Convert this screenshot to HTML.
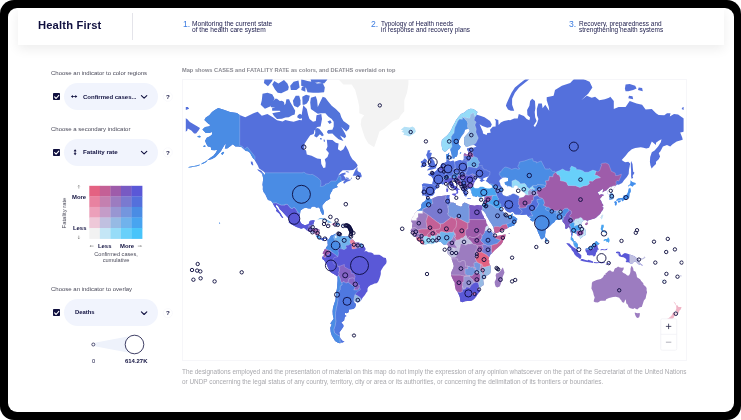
<!DOCTYPE html>
<html><head><meta charset="utf-8">
<style>
html,body{margin:0;padding:0;background:#fff;}
body{width:741px;height:420px;position:relative;overflow:hidden;font-family:"Liberation Sans",sans-serif;color:#10103f;}
.frame{position:absolute;left:0;top:0;width:741px;height:420px;background:#000;border-radius:14px;}
.card{position:absolute;left:7.5px;top:7.5px;width:726.5px;height:404.5px;background:#fff;border-radius:9px;overflow:hidden;}
.hdr{position:absolute;left:18px;top:7.5px;width:706px;height:37.5px;background:#fff;box-shadow:0 4px 12px rgba(0,0,0,0.075);}
.abs{position:absolute;white-space:nowrap;line-height:1;will-change:transform;}
.lbl{font-size:6.0px;color:#4a4a5a;}
.pill{position:absolute;left:64.4px;width:93.4px;height:27px;border-radius:13.5px;background:#f1f4fd;}
.cb{position:absolute;left:53px;width:7.4px;height:7.4px;background:#10103f;border-radius:0.8px;}
.b{font-weight:bold;}
.nav{font-size:6.1px;line-height:6px;color:#1a1a4a;}
.num{font-size:8.6px;color:#3b7be0;}
svg circle{fill:none;stroke:#0a0a3c;stroke-width:0.9;}
.q{font-size:6.2px;font-weight:bold;}
</style></head><body>
<div class="frame"></div>
<div class="card"></div>
<div class="hdr"></div>
<div class="abs" style="left:132.4px;top:13px;width:0.6px;height:26.5px;background:#e4e4ea;"></div>
<div class="abs b" id="logo" style="left:38px;top:20.3px;font-size:11.2px;letter-spacing:0.16px;color:#10103f;">Health First</div>

<div class="abs num" style="left:182.8px;top:19.6px;">1.</div>
<div class="abs nav" id="n1" style="font-size:6.6px;left:192px;top:20.9px;">Monitoring the current state<br>of the health care system</div>
<div class="abs num" style="left:371.1px;top:19.6px;">2.</div>
<div class="abs nav" id="n2" style="font-size:6.42px;left:381px;top:20.9px;">Typology of Health needs<br>in response and recovery plans</div>
<div class="abs num" style="left:569.3px;top:19.6px;">3.</div>
<div class="abs nav" id="n3" style="font-size:6.48px;left:578.7px;top:20.9px;">Recovery, preparedness and<br>strengthening health systems</div>

<!-- left panel -->
<div class="abs lbl" id="l1" style="left:51px;top:70.2px;">Choose an indicator to color regions</div>
<div class="pill" style="top:83px;"></div>
<div class="cb" style="top:93px;"></div>
<div class="abs b" id="t1" style="left:83.2px;top:93.6px;font-size:6.02px;">Confirmed cases...</div>
<div class="abs q" style="left:166.3px;top:93.8px;">?</div>

<div class="abs lbl" id="l2" style="left:51px;top:125.6px;">Choose a secondary indicator</div>
<div class="pill" style="top:138.7px;"></div>
<div class="cb" style="top:148.7px;"></div>
<div class="abs b" id="t2" style="left:83.2px;top:149.3px;font-size:6.2px;">Fatality rate</div>
<div class="abs q" style="left:166.3px;top:149.5px;">?</div>

<div class="abs lbl" id="l3" style="left:51px;top:285.8px;">Choose an indicator to overlay</div>
<div class="pill" style="top:299.3px;"></div>
<div class="cb" style="top:309px;"></div>
<div class="abs b" id="t3" style="left:74.5px;top:310.3px;font-size:5.9px;">Deaths</div>
<div class="abs q" style="left:166.3px;top:310.2px;">?</div>

<!-- legend text -->
<div class="abs b" style="left:72px;top:194.5px;font-size:5.9px;">More</div>
<div class="abs b" style="left:73px;top:226.2px;font-size:5.9px;">Less</div>
<div class="abs b" style="left:97.5px;top:244px;font-size:5.9px;">Less</div>
<div class="abs b" style="left:120.3px;top:244px;font-size:5.9px;">More</div>
<div class="abs lbl" style="left:86px;width:60px;text-align:center;top:252.2px;line-height:5.9px;font-size:5.6px;">Confirmed cases,<br>cumulative</div>
<div class="abs lbl" style="left:47.2px;top:209.5px;width:36px;text-align:center;transform:rotate(-90deg);font-size:5.9px;">Fatality rate</div>
<div class="abs b" id="kk" style="left:125.2px;top:358.8px;font-size:5.94px;">614.27K</div>
<div class="abs" style="left:91.7px;top:358.8px;font-size:5.7px;">0</div>

<!-- map caption / footer -->
<div class="abs b" id="cap" style="left:182.3px;top:67.6px;font-size:5.66px;color:#8a8a92;">Map shows CASES and FATALITY RATE as colors, and DEATHS overlaid on top</div>
<div class="abs" id="f1" style="left:182px;top:368.8px;font-size:6.4px;color:#a9a9ae;">The designations employed and the presentation of material on this map do not imply the expression of any opinion whatsoever on the part of the Secretariat of the United Nations</div>
<div class="abs" id="f2" style="left:182px;top:379.2px;font-size:6.4px;color:#a9a9ae;">or UNDP concerning the legal status of any country, territory, city or area or its authorities, or concerning the delimitation of its frontiers or boundaries.</div>

<div class="abs" style="left:182px;top:79px;width:505px;height:281.5px;box-sizing:border-box;border:0.6px solid #f6f6f9;"></div>
<svg width="741" height="420" viewBox="0 0 741 420" style="position:absolute;left:0;top:0">
<defs>
<clipPath id="land"><path d="M218.3 107.9L224.5 110.0L230.0 112.1L236.9 112.9L239.7 114.9L245.2 117.2L249.4 115.3L253.5 113.3L257.7 111.7L261.8 115.7L267.4 114.1L272.9 117.2L277.0 120.3L282.6 121.4L285.3 119.9L289.5 121.0L293.6 121.7L299.2 119.9L301.9 120.3L301.9 113.3L303.3 105.2L306.8 109.1L308.2 115.3L309.5 119.1L313.0 121.7L315.8 121.0L316.5 115.3L321.3 114.1L322.0 119.1L320.6 126.4L317.1 127.1L314.4 130.4L313.7 134.0L310.2 135.3L307.5 139.3L304.7 143.6L304.0 149.2L306.1 150.5L306.8 154.4L311.6 155.7L317.1 158.6L320.9 159.1L321.3 164.0L323.4 167.9L325.4 167.4L325.7 162.9L324.8 159.3L327.5 156.9L328.9 153.1L326.1 149.7L327.5 146.4L326.8 139.8L332.4 140.1L335.8 142.8L338.6 143.6L337.9 149.2L340.7 151.0L343.4 149.2L345.5 145.3L348.3 150.5L350.3 155.7L352.4 159.3L355.2 161.7L357.7 165.2L356.6 167.4L353.1 170.1L349.0 170.3L342.7 170.3L340.0 172.8L337.9 176.0L336.5 177.4L338.6 175.3L342.0 173.3L345.5 172.6L345.5 174.5L343.4 174.9L344.8 177.0L345.5 178.6L347.6 179.2L349.6 179.6L351.7 179.0L351.4 177.0L350.3 180.4L346.9 181.7L344.1 183.7L343.1 182.3L345.1 180.2L342.0 181.0L339.3 182.5L337.5 183.9L336.8 185.7L337.9 187.1L335.8 187.8L332.6 188.9L332.1 191.1L331.0 192.5L330.0 194.8L329.6 196.0L330.3 198.6L328.2 199.9L326.1 201.1L324.1 203.2L322.4 205.2L322.3 207.3L323.4 210.0L323.9 212.8L323.5 214.8L322.4 214.8L321.6 213.2L320.3 210.7L320.2 208.9L318.5 207.3L316.5 207.8L314.4 206.6L311.6 206.8L310.9 208.5L308.8 208.4L305.4 207.8L303.3 208.5L300.5 210.4L300.1 213.5L299.4 216.6L299.6 219.1L300.3 221.8L301.7 223.7L303.3 224.6L304.7 225.2L307.5 224.6L308.8 223.7L309.5 221.4L310.2 220.8L313.0 220.2L314.7 220.5L313.7 222.9L313.3 225.0L312.6 226.2L311.9 228.5L313.7 228.7L315.8 228.5L317.8 228.7L319.6 229.8L319.2 232.7L318.9 235.5L320.2 237.5L322.0 238.3L324.1 238.0L326.1 237.6L327.7 238.9L327.0 240.8L326.3 239.3L324.8 238.4L323.5 239.4L324.1 240.5L322.7 240.7L321.6 239.7L319.9 239.3L318.9 238.9L317.4 237.2L316.0 236.6L316.0 235.4L314.7 233.7L313.5 232.7L312.3 232.4L310.2 231.7L308.2 231.2L307.0 230.4L304.7 228.2L303.3 228.1L301.2 228.8L299.2 228.1L296.4 226.9L293.6 225.5L290.9 224.0L288.8 222.6L289.1 220.3L288.1 218.1L285.3 215.1L283.3 212.8L281.9 211.2L279.8 209.2L278.4 206.5L276.3 204.5L275.9 206.5L277.7 208.9L279.1 211.2L280.8 213.5L281.9 215.8L283.3 217.8L282.3 218.1L280.5 215.8L279.5 213.8L277.7 212.3L275.9 210.7L276.8 209.2L275.0 207.3L273.6 204.9L272.8 203.2L271.0 200.7L268.0 199.9L266.3 196.5L265.3 194.3L263.6 192.1L262.8 189.6L262.9 186.7L262.5 184.8L263.2 178.6L262.2 174.1L264.6 174.5L265.3 176.0L264.9 172.8L263.9 171.8L261.8 170.3L259.1 168.5L257.7 165.2L255.6 161.7L254.5 159.8L252.8 158.1L251.5 155.7L250.1 153.1L248.0 151.3L245.9 151.0L243.8 149.2L241.4 147.0L238.3 146.4L235.5 146.4L232.8 144.2L230.0 146.4L227.2 148.4L224.8 148.6L225.9 144.2L227.2 143.1L224.5 145.1L222.4 148.4L221.0 151.0L218.3 153.9L215.5 156.9L212.0 158.9L209.3 159.8L207.2 160.3L210.7 157.4L213.4 155.7L216.2 152.3L217.2 149.7L214.8 150.2L211.3 150.0L210.7 147.0L207.9 146.4L206.1 143.6L205.1 140.7L206.8 137.7L210.0 136.2L212.0 134.6L212.0 132.1L209.3 133.0L205.8 133.0L202.4 129.4L205.1 127.1L208.6 126.4L210.7 125.0L208.6 123.9L204.4 119.9L205.8 117.6L209.3 115.3L212.0 112.1L214.8 110.0ZM373.8 147.0L368.3 143.6L364.9 137.7L362.8 131.4L360.7 124.6L361.4 119.1L364.2 115.3L359.3 113.3L359.3 107.0L357.9 100.2L355.2 90.1L351.7 84.6L343.4 84.6L337.9 78.7L335.1 70.9L340.7 57.8L351.7 40.0L372.5 23.5L393.2 23.5L407.0 40.0L411.2 57.8L408.4 72.3L408.4 84.6L407.0 92.8L404.3 100.2L404.3 107.0L404.3 111.2L400.8 115.3L398.7 119.1L393.2 121.0L389.1 124.6L384.2 128.8L379.4 131.4L378.0 136.2L375.9 142.2L374.5 146.4ZM400.8 129.8L404.3 126.7L409.8 127.4L412.6 126.4L414.6 128.1L416.0 131.4L414.0 133.7L409.1 136.5L405.7 135.3L403.3 135.0L404.3 133.0L401.5 131.8L403.6 130.4ZM327.7 238.9L328.5 239.7L329.6 237.9L330.3 236.2L331.3 235.4L333.7 234.8L335.5 233.5L336.2 234.4L335.4 235.8L336.5 235.6L337.9 234.8L337.9 233.9L340.0 235.2L340.7 236.1L343.4 236.1L345.5 236.6L348.3 235.9L349.2 236.9L350.3 238.3L351.0 239.0L353.1 239.7L354.5 241.4L355.9 242.5L358.6 242.6L360.0 242.9L362.1 243.9L363.5 244.8L364.2 246.6L365.5 248.3L365.5 250.1L364.2 251.5L366.2 251.1L367.6 251.8L368.3 252.2L371.1 252.5L373.2 253.6L373.8 254.7L376.6 254.7L379.4 254.8L381.5 255.9L383.5 257.4L385.9 258.1L386.3 259.8L386.6 261.2L386.3 263.3L384.9 265.1L383.5 266.5L382.1 268.7L380.8 271.1L380.8 273.9L380.3 276.1L379.4 278.7L378.7 280.5L378.0 282.0L376.6 283.3L374.5 283.5L372.5 284.4L370.4 285.3L368.3 287.0L367.5 288.8L367.5 291.2L366.2 292.7L364.9 295.1L362.8 297.6L361.0 300.4L359.3 302.0L357.3 302.4L355.2 301.5L353.9 300.9L353.9 301.9L355.6 303.4L355.9 305.1L355.0 307.7L353.1 308.9L349.0 309.5L348.5 312.2L346.9 313.3L344.8 312.7L344.8 314.9L346.6 315.9L344.8 316.8L344.1 320.6L341.3 322.6L343.4 325.0L343.4 326.7L341.3 329.8L339.3 332.6L340.0 336.0L339.8 336.9L340.7 338.7L342.7 341.1L344.5 341.5L342.7 342.5L340.0 343.2L337.9 342.7L335.1 341.1L333.0 337.6L331.7 335.3L330.7 332.0L330.3 327.7L331.7 324.6L330.3 323.6L332.4 320.6L333.7 318.7L332.8 314.9L332.6 311.3L333.0 307.7L333.5 306.0L334.3 303.4L335.5 300.0L335.8 295.9L336.0 292.7L336.8 289.6L337.2 286.5L337.3 284.3L337.6 280.5L337.5 276.7L336.1 275.4L333.7 273.9L331.0 272.5L329.2 270.2L327.9 267.5L326.8 264.7L325.4 262.2L324.1 260.2L322.4 259.1L322.3 257.0L323.6 255.5L324.1 254.3L322.7 253.8L323.0 252.2L324.1 250.8L324.1 249.7L325.7 248.9L326.1 247.3L327.5 246.0L327.8 244.6L327.5 242.9L327.7 241.5L327.0 240.8ZM426.5 197.7L427.4 197.5L430.6 198.7L431.9 198.9L433.3 197.9L434.7 197.5L436.8 196.5L438.8 196.0L441.6 196.0L445.1 195.6L448.3 195.1L449.9 195.6L449.2 196.7L449.4 198.2L449.9 199.9L448.7 200.7L449.9 201.9L452.0 202.7L453.0 202.6L455.7 203.6L456.1 204.9L458.9 206.0L461.0 206.8L462.4 205.7L462.4 204.0L464.4 202.6L466.5 203.2L469.3 204.7L472.0 205.2L474.8 205.8L476.2 205.2L477.6 204.9L479.4 205.3L479.6 207.3L479.9 208.1L481.0 210.4L481.7 212.0L482.4 214.3L483.8 216.6L484.1 218.1L485.7 219.6L486.1 221.1L486.3 223.3L487.9 225.5L489.1 228.4L489.3 229.1L491.4 230.5L493.5 232.7L494.6 233.4L494.6 234.8L495.6 236.2L497.6 235.9L499.7 235.4L502.5 235.1L505.5 234.2L505.4 236.2L504.5 238.3L503.2 240.4L502.5 242.5L501.1 244.6L499.0 246.6L497.3 248.0L494.9 250.1L492.8 252.2L492.1 253.2L490.7 254.3L490.0 255.6L489.5 256.5L488.9 257.7L488.4 259.8L489.3 260.5L489.1 262.6L489.7 264.7L490.6 265.4L490.8 268.2L490.8 271.1L490.3 273.2L488.6 274.7L485.9 276.1L484.9 277.4L483.1 278.7L483.4 281.3L483.8 283.5L483.7 285.0L481.0 286.8L480.1 288.1L480.1 290.4L479.5 292.1L477.6 294.2L476.2 296.4L474.1 298.9L472.0 300.4L470.2 300.9L467.2 301.0L465.1 301.2L462.4 302.2L460.3 301.4L460.0 299.2L459.9 297.6L458.6 294.3L457.5 292.1L455.7 289.6L454.8 285.0L454.8 282.7L453.4 280.5L452.0 277.6L451.0 275.1L451.0 273.2L452.0 270.4L453.2 268.2L453.8 266.1L453.0 263.3L452.4 261.2L451.7 259.3L451.4 257.7L450.2 256.3L448.5 254.7L447.6 253.4L446.9 251.8L447.8 250.4L448.0 249.1L448.3 247.3L448.1 246.0L447.8 245.3L446.7 244.4L445.1 244.7L443.7 244.8L442.3 243.6L440.9 242.1L439.4 241.9L437.5 242.1L436.4 242.3L434.7 243.0L433.3 243.6L431.9 244.2L430.6 243.7L429.2 243.5L426.4 244.2L424.3 244.7L422.3 243.9L419.8 242.1L418.8 241.2L417.4 240.5L416.4 239.0L416.3 237.6L414.6 236.2L414.0 235.5L412.6 234.2L411.6 233.5L411.5 232.1L410.5 230.2L411.9 228.4L412.2 225.5L412.6 223.3L411.9 222.6L411.2 221.1L411.2 219.9L412.6 217.0L414.0 215.5L414.2 214.0L416.0 212.0L416.7 210.9L418.8 209.7L420.9 208.2L421.3 206.6L421.1 204.9L422.3 202.7L424.2 201.4L425.3 200.7L426.1 199.1ZM502.9 267.5L504.5 272.5L503.6 274.7L503.0 276.1L501.8 280.5L500.4 285.0L499.7 286.5L497.2 287.4L495.6 286.5L494.9 284.3L494.6 282.0L496.0 279.0L496.1 277.6L495.6 275.4L496.2 273.5L498.3 272.9L499.7 271.8L501.1 270.1L502.2 268.2ZM427.2 197.2L426.0 196.5L424.5 195.3L422.4 195.6L422.5 193.2L421.6 192.7L422.4 190.0L422.7 188.2L422.4 185.7L421.8 184.8L423.6 183.5L426.7 183.7L429.4 183.9L432.2 184.0L432.8 181.9L433.2 179.0L431.7 176.6L428.5 175.1L428.2 174.1L430.6 173.3L432.5 173.7L432.3 171.4L434.7 172.0L436.8 170.3L437.2 168.8L439.5 167.7L440.5 165.9L441.3 164.0L443.0 163.1L444.7 162.7L446.5 162.0L446.7 159.6L446.0 157.9L446.0 154.4L447.8 153.9L449.2 152.6L448.9 155.7L449.6 156.2L448.5 158.6L448.3 159.8L449.6 161.0L449.9 161.7L451.6 161.0L453.4 160.5L454.5 162.0L456.8 161.0L460.3 160.1L462.1 160.8L463.7 159.3L463.7 156.9L463.7 154.4L464.8 152.9L466.5 154.4L467.9 154.4L468.3 151.3L467.2 150.0L467.2 148.4L469.3 147.8L473.4 147.8L476.5 146.7L474.1 145.1L470.7 145.3L467.9 146.4L465.8 146.4L464.2 144.2L464.2 140.7L464.0 137.7L465.8 135.6L468.6 132.4L469.8 130.8L468.6 128.8L465.1 129.4L464.2 133.0L461.0 137.1L458.9 140.7L458.5 143.6L458.9 144.8L460.7 146.4L459.9 148.4L457.9 150.5L457.5 154.4L456.8 156.4L454.8 156.9L454.3 158.4L452.7 158.4L452.1 156.4L451.3 153.1L450.2 149.2L449.4 147.8L447.8 149.4L445.8 151.6L444.4 151.8L442.4 149.7L441.6 145.6L441.6 142.2L441.9 140.1L444.4 137.7L447.1 135.6L449.2 133.0L451.3 129.8L452.7 126.4L454.8 122.8L456.1 119.9L458.2 117.2L461.0 114.1L464.4 112.5L467.2 110.0L470.4 108.7L473.4 109.1L477.6 112.1L476.2 114.5L480.3 115.7L484.5 117.2L490.0 121.0L491.8 124.6L490.7 127.1L487.3 127.8L482.4 126.0L479.6 124.3L482.8 131.4L483.0 133.4L486.6 135.0L487.3 133.0L490.7 132.7L490.0 129.8L492.8 126.7L495.6 126.4L495.8 121.0L494.6 118.8L498.3 119.9L498.6 125.0L500.8 122.5L503.9 121.0L508.7 119.9L510.1 120.3L514.2 118.4L517.7 118.4L518.8 114.1L523.9 116.1L526.7 119.1L529.4 120.3L530.1 117.6L527.4 114.9L527.1 110.0L529.4 105.7L530.1 101.1L532.2 98.8L535.0 101.1L535.4 108.3L534.7 112.1L535.2 117.2L536.6 121.0L533.6 125.7L535.0 127.1L537.0 123.6L538.4 119.1L537.0 115.3L536.8 109.1L538.4 103.4L541.9 103.4L542.6 108.3L545.3 104.8L549.5 111.2L549.5 113.3L548.8 107.0L546.7 100.2L546.7 97.3L553.6 95.8L555.0 90.1L561.9 85.7L570.2 82.9L578.5 74.3L582.7 78.7L589.6 81.7L592.4 87.4L588.2 93.8L585.4 96.3L581.3 100.2L586.8 95.8L591.7 97.8L595.1 96.8L599.3 100.2L604.8 99.2L609.0 97.8L610.3 96.8L613.8 101.1L613.8 109.1L618.6 107.0L622.8 107.0L625.6 107.0L628.3 103.0L629.7 101.1L636.6 103.4L642.1 104.8L645.6 109.6L651.8 109.1L656.0 113.3L658.7 114.9L664.3 115.3L667.0 113.3L670.5 113.3L669.8 116.5L674.0 114.1L678.1 114.5L682.3 117.6L685.0 119.1L687.8 122.1L691.9 124.6L695.4 126.4L697.9 128.1L696.8 130.1L694.0 133.4L691.9 133.4L689.2 130.4L685.7 128.4L685.0 130.8L682.9 132.1L680.2 132.4L682.3 137.7L682.7 139.8L676.7 141.6L672.6 144.2L670.2 146.4L667.0 145.1L662.9 146.4L661.5 149.2L660.1 151.8L658.7 153.1L660.1 156.4L658.7 159.3L656.0 161.7L656.0 164.0L653.6 166.3L651.6 168.5L650.4 165.2L649.9 161.7L650.2 156.9L651.8 152.3L654.6 150.5L658.1 146.4L660.8 142.2L661.5 139.3L658.7 140.7L656.0 142.8L656.0 145.1L651.8 141.6L649.1 147.8L646.3 148.6L643.5 147.8L640.8 147.3L635.2 148.1L631.8 149.2L628.3 152.3L625.6 155.7L621.7 160.1L624.2 161.7L625.6 162.2L628.3 161.7L630.1 163.6L629.7 166.3L629.0 169.6L628.7 173.9L626.9 177.0L624.2 180.0L622.1 182.9L618.6 184.8L617.1 184.6L615.5 186.1L614.2 187.6L613.8 188.9L611.2 190.7L611.0 191.8L612.3 193.0L613.7 195.6L613.8 197.7L613.1 198.9L611.0 199.6L609.5 199.9L609.5 198.2L609.8 195.6L609.1 194.3L607.6 193.9L607.9 192.1L606.7 190.3L604.1 191.2L602.5 192.5L603.1 190.0L603.1 188.7L600.7 190.3L599.3 191.6L597.5 192.1L598.6 193.9L599.3 195.1L601.6 194.3L604.1 195.0L602.0 196.3L601.1 197.4L599.7 199.1L601.1 200.7L602.0 203.2L603.3 204.9L603.1 206.0L601.8 206.8L603.4 207.6L603.0 209.7L601.6 211.2L600.4 213.5L599.3 214.8L598.0 215.8L596.5 217.3L595.1 218.3L592.8 219.0L591.7 219.3L589.6 220.0L587.5 220.6L587.2 222.1L586.6 220.3L584.8 220.0L583.4 220.6L582.3 221.8L581.0 224.0L582.0 225.8L583.8 227.9L585.3 229.4L585.9 232.0L585.9 234.1L585.2 235.2L583.1 236.2L582.4 236.5L582.0 237.6L580.2 238.7L579.8 237.2L579.2 236.3L578.0 236.1L577.1 234.8L576.2 233.8L574.4 233.1L574.2 232.1L573.0 232.2L573.0 234.1L572.3 235.5L571.9 237.6L573.0 238.3L573.4 239.7L574.2 241.1L575.4 241.5L576.5 242.5L577.6 243.9L577.8 245.3L577.7 246.9L578.8 248.9L577.8 249.0L576.5 248.0L574.9 246.9L573.8 245.3L573.6 243.2L573.0 241.8L572.0 240.4L570.8 239.7L570.8 237.6L571.2 235.5L571.1 233.4L570.5 231.2L569.8 229.1L569.7 227.7L568.6 227.1L566.8 228.7L565.1 228.4L565.4 226.2L564.7 224.0L563.3 222.6L562.4 221.4L561.7 219.1L559.9 218.9L557.8 219.9L556.4 220.0L555.0 220.6L554.7 221.8L553.6 222.7L552.3 223.4L550.9 225.0L548.5 227.2L547.0 228.4L545.6 229.4L545.5 232.0L545.1 234.4L545.1 236.5L544.0 237.9L542.9 238.4L541.9 239.6L540.5 238.3L540.1 236.9L539.1 234.5L538.1 232.7L537.3 230.1L536.8 229.1L535.9 226.9L535.4 224.0L535.2 221.8L535.1 220.3L535.0 219.3L534.4 221.1L532.6 221.5L530.4 219.9L530.0 219.1L531.8 218.3L529.9 217.8L529.0 217.0L528.1 216.6L527.4 215.4L526.7 214.5L523.9 214.8L520.4 214.9L517.7 214.6L514.9 214.2L513.8 212.8L512.8 211.8L510.1 212.6L508.0 212.0L505.9 210.6L505.0 208.9L503.9 207.0L502.5 206.6L501.8 207.3L501.1 208.1L501.8 209.7L502.7 211.2L504.1 212.8L505.0 214.3L505.0 215.4L505.6 213.4L506.1 215.1L506.1 216.1L508.0 216.4L510.1 216.1L511.2 214.6L512.3 213.5L512.7 213.1L512.7 215.1L513.0 216.1L514.9 217.0L517.4 218.9L515.9 221.8L514.6 224.0L514.2 225.5L511.5 226.2L509.4 226.9L506.9 228.4L503.9 229.8L501.8 231.2L499.0 232.1L496.9 232.9L494.9 233.1L494.4 232.0L494.0 229.8L493.6 227.7L492.5 225.5L491.1 223.3L489.5 221.1L487.9 218.1L486.6 216.1L485.6 213.5L483.8 211.2L482.8 210.4L483.1 208.1L482.1 210.4L480.6 209.7L479.8 207.4L479.4 205.3L481.4 205.5L482.1 205.2L482.8 204.0L483.1 202.4L483.9 200.7L484.3 199.1L484.5 197.4L484.8 196.3L483.1 196.3L481.7 197.0L479.6 197.2L477.6 196.0L476.2 196.9L474.8 196.3L473.4 196.2L472.5 195.6L472.3 193.9L471.3 193.0L471.8 191.6L470.9 191.2L470.9 190.3L470.7 189.3L470.0 188.7L467.9 189.1L467.6 190.3L466.4 189.4L466.1 191.2L467.2 193.0L467.9 193.9L466.8 193.9L466.8 195.1L466.2 196.5L464.7 196.0L464.2 194.3L463.9 193.4L463.3 192.1L462.4 190.9L461.5 189.4L461.7 187.1L460.3 185.7L458.2 184.8L456.1 182.9L454.8 180.6L453.5 181.0L453.6 179.6L451.8 180.2L451.7 182.3L453.4 183.7L454.3 185.7L456.8 186.9L458.2 188.5L460.3 190.2L458.2 189.6L457.7 190.9L458.3 192.1L457.5 193.4L456.4 194.1L456.6 192.7L456.8 191.2L455.9 190.2L454.8 189.3L452.7 188.0L451.6 187.1L449.9 185.9L449.2 184.8L448.8 183.1L447.1 182.1L445.1 183.3L443.0 184.6L441.6 184.0L440.2 183.9L439.1 184.8L439.1 186.1L437.7 187.8L435.8 189.1L434.3 191.2L434.8 192.5L433.9 193.9L433.6 194.6L431.9 196.0L428.6 196.2ZM426.8 170.5L429.9 170.1L433.0 169.2L436.5 168.1L435.8 167.4L437.1 165.0L435.1 164.0L434.7 162.7L434.4 161.2L432.8 159.3L431.9 157.4L430.6 156.9L431.2 155.7L431.9 153.1L429.9 152.6L429.2 152.9L430.6 150.2L427.8 150.2L427.1 153.1L426.1 155.1L427.1 156.9L427.8 159.3L428.1 160.1L429.9 159.6L430.6 161.7L430.6 163.1L428.5 163.4L428.5 164.5L429.2 165.6L427.5 166.5L429.2 167.2L430.6 167.7L429.9 168.1L428.5 168.5ZM426.4 165.9L426.1 163.4L427.1 160.5L425.7 158.9L424.3 158.6L422.9 160.5L420.9 161.2L420.9 163.1L422.3 163.8L421.1 165.9L420.6 166.8L421.6 167.4L423.6 166.8L425.7 166.1ZM505.9 105.7L508.0 109.6L510.8 110.8L514.2 110.8L512.1 104.8L512.1 98.8L514.9 92.8L519.1 87.4L524.6 82.9L529.4 79.3L526.0 78.7L520.4 82.9L514.9 87.4L511.5 92.8L508.7 98.8L506.6 103.4ZM624.9 88.5L625.6 91.2L628.3 91.2L633.2 90.1L636.6 88.5L635.2 85.7L629.7 84.0L625.6 84.6ZM638.0 90.1L642.8 91.2L642.1 88.0L638.7 87.4ZM628.3 98.3L633.2 99.2L632.5 96.3L629.0 95.8ZM681.6 109.1L683.6 110.0L687.1 108.7L685.7 107.0L682.9 107.0ZM631.1 161.0L632.5 164.0L632.9 168.5L633.2 171.8L634.5 172.8L632.5 176.0L633.2 177.4L631.8 179.0L631.1 177.0L631.1 173.9L631.1 170.7L630.8 166.3L630.8 162.9ZM630.4 180.2L632.5 181.9L635.6 182.9L635.9 184.2L633.9 185.0L632.7 186.7L630.4 185.6L629.0 185.7L628.6 187.6L628.3 185.2L630.1 184.2L630.5 181.9ZM630.3 187.8L630.9 190.3L630.8 192.1L629.7 193.6L629.6 195.6L629.3 197.4L628.3 199.1L627.9 198.2L626.7 199.6L625.6 199.7L624.2 199.7L623.9 200.2L622.5 201.6L621.5 200.2L621.4 199.6L619.3 200.1L617.7 200.7L615.9 200.7L616.6 199.6L618.2 198.2L620.4 198.1L622.5 198.1L623.1 196.9L623.9 195.1L624.6 195.6L626.0 195.3L626.9 193.9L628.0 192.1L628.3 190.3L628.7 188.5L629.7 188.2ZM615.9 200.9L617.0 202.4L616.6 204.9L615.5 205.7L614.8 204.9L614.9 203.2L614.1 202.4L614.5 201.4ZM617.9 200.7L620.4 200.2L621.0 201.1L620.3 201.9L618.6 202.7L617.9 201.9ZM602.7 214.6L603.4 215.1L602.7 217.3L601.8 219.6L600.9 218.6L600.8 217.3L601.6 215.7ZM585.0 223.7L586.8 222.4L588.2 223.0L587.5 224.5L586.1 225.2L585.0 224.5ZM545.3 237.2L546.6 238.3L547.8 240.4L547.7 241.8L546.2 242.6L545.3 242.1L545.1 240.4L545.1 238.9ZM601.5 224.8L603.7 224.8L603.8 226.9L602.9 228.7L603.0 230.8L604.4 231.2L606.1 231.5L606.3 233.2L605.2 232.7L604.1 232.0L602.7 231.7L601.5 231.0L601.9 230.4L600.9 230.1L600.7 228.1L601.1 227.5L601.2 226.2ZM608.1 237.2L609.4 239.0L609.6 240.7L609.2 242.1L608.1 243.0L608.0 241.8L606.5 242.2L606.2 240.8L605.4 240.4L603.6 241.2L603.8 239.7L605.2 238.9L607.2 238.9L607.6 238.0ZM586.3 248.0L588.2 248.6L588.6 247.3L591.0 246.4L592.4 244.6L594.0 243.5L595.1 242.2L596.2 241.1L597.5 241.9L598.2 242.8L599.6 243.6L598.6 244.6L597.5 245.0L597.6 246.6L597.9 248.0L599.1 249.4L597.6 249.7L597.2 251.5L596.2 252.6L595.8 254.3L595.1 255.9L593.3 256.5L593.1 255.5L591.0 255.2L589.3 255.6L587.1 255.0L586.8 252.9L585.7 251.5L585.4 250.4L585.4 249.1ZM566.5 243.0L569.5 243.6L571.2 245.5L573.4 247.3L575.1 248.3L577.1 249.7L578.3 250.8L577.8 252.2L579.2 253.3L579.9 254.0L581.3 255.0L581.3 257.0L581.0 258.8L579.4 258.8L578.5 257.7L576.2 256.3L574.4 254.3L573.6 252.2L571.6 250.1L571.2 248.4L569.1 246.4L567.5 244.8L566.5 243.6ZM580.2 260.2L581.3 259.0L582.7 259.0L584.8 259.8L587.5 260.4L588.2 259.7L590.6 260.4L593.1 261.5L593.1 262.9L590.3 262.5L586.8 261.9L584.1 261.6L582.0 260.9ZM593.7 262.0L596.5 262.2L599.3 262.2L602.0 262.3L604.8 262.2L604.8 263.0L601.4 263.2L599.3 263.0L596.5 263.3L594.0 263.0ZM605.5 265.1L607.6 263.3L610.3 262.5L610.6 262.9L607.6 264.3L606.2 265.1ZM600.4 249.7L601.8 249.1L604.8 249.6L607.6 248.6L606.9 250.1L604.8 250.2L602.0 250.1L600.7 250.5ZM615.9 251.9L617.9 251.4L620.0 251.9L620.4 253.8L621.4 255.4L623.5 253.8L624.9 252.9L626.9 253.6L629.7 254.4L632.5 255.5L634.5 256.2L636.3 257.7L638.0 259.1L639.1 260.1L638.4 261.2L640.1 263.3L642.1 264.7L643.3 265.5L641.5 265.3L639.4 264.8L638.1 264.0L636.6 262.2L634.5 261.5L633.2 262.6L632.5 263.6L630.4 263.6L628.3 262.2L626.2 262.3L625.6 260.9L626.7 260.2L625.6 258.4L623.5 257.3L621.4 256.9L619.3 256.3L618.4 255.0L617.5 254.7L619.6 254.1L617.9 253.6L616.1 252.9ZM639.8 258.6L642.8 258.4L644.9 256.6L645.3 257.4L643.5 259.1L641.5 259.5L639.9 259.1ZM631.8 265.7L633.2 268.2L633.6 270.8L635.6 271.8L636.6 274.7L637.0 277.3L640.1 279.3L641.2 281.0L643.3 283.2L643.5 284.7L645.6 286.5L646.6 288.1L646.6 290.4L647.1 292.3L646.3 295.1L645.6 298.4L643.9 300.5L643.1 302.9L642.1 306.0L642.0 306.8L639.4 307.5L637.2 309.6L635.2 308.4L634.5 308.0L633.2 309.1L630.4 308.2L628.7 307.3L627.9 305.1L626.9 303.5L626.0 303.4L626.2 302.2L625.6 299.2L624.9 300.5L623.9 302.9L622.8 302.0L622.2 302.4L621.4 300.5L620.0 298.9L619.3 297.7L615.9 296.7L613.1 296.9L609.0 298.0L606.2 299.2L605.5 300.7L600.7 300.7L597.9 302.5L595.1 302.2L593.7 301.4L593.9 300.0L594.7 297.6L593.7 295.1L593.2 292.4L592.4 290.4L591.4 288.4L591.7 285.8L591.9 282.9L592.6 281.7L594.4 281.0L596.5 279.9L598.7 279.5L600.7 278.9L602.7 277.6L603.7 276.1L604.1 274.7L605.6 275.1L605.2 273.7L606.9 272.5L608.3 271.1L610.1 270.2L611.7 271.5L612.1 271.8L613.8 271.6L614.1 270.1L614.9 268.5L615.6 268.1L616.6 267.8L618.1 266.5L619.3 267.2L621.4 267.8L623.8 267.5L623.5 269.4L622.5 271.1L622.1 271.8L623.5 272.9L625.6 274.1L627.2 275.4L629.0 275.5L630.1 273.2L630.5 271.1L630.5 268.7L631.1 266.8ZM634.8 312.5L637.3 313.3L639.8 312.9L639.8 314.9L639.2 317.2L637.7 317.9L636.6 317.6L635.6 315.9L634.8 313.6ZM673.5 301.5L675.3 303.0L676.4 305.6L677.8 305.6L678.4 307.0L680.9 307.0L681.6 307.2L680.7 309.5L679.5 310.4L678.5 313.1L677.1 314.2L676.4 313.6L677.0 311.6L675.3 310.4L676.3 309.1L676.3 306.8L675.8 305.1L674.0 302.5ZM673.5 312.2L675.8 313.4L675.3 314.7L674.0 316.8L673.7 318.1L671.6 319.3L671.2 321.6L670.5 322.4L669.1 323.8L667.5 323.8L665.1 322.8L665.0 321.6L667.0 319.1L669.1 317.7L671.2 315.9L672.3 314.2L672.9 312.7ZM317.3 219.7L319.9 218.1L322.0 218.0L324.1 218.4L327.5 220.0L330.3 221.4L332.1 222.3L330.3 222.7L327.2 222.7L327.9 221.8L326.1 220.6L323.4 219.9L321.3 219.0L319.2 219.3ZM331.8 224.6L333.2 222.9L335.5 222.9L337.9 223.0L340.1 224.6L338.6 225.0L336.5 225.3L335.5 225.9L334.4 225.2L331.8 224.9ZM326.4 224.9L328.3 224.8L329.3 225.5L327.9 225.8L326.4 225.3ZM341.8 224.8L344.0 224.9L343.8 225.5L341.8 225.5ZM352.7 175.8L354.5 171.8L355.9 169.0L357.7 167.2L357.3 170.3L358.6 171.8L360.7 172.8L361.4 174.9L361.8 176.0L361.1 177.6L360.0 177.0L357.9 177.2L357.3 175.8L354.5 175.8ZM257.3 169.0L261.4 170.7L263.9 173.9L262.1 173.7L260.4 172.2L258.0 170.5ZM250.8 161.5L252.6 161.7L253.3 165.2L252.1 165.2L251.0 163.4ZM221.0 153.6L223.1 151.8L224.2 152.6L222.4 154.9ZM207.2 160.3L205.1 161.7L202.4 163.1L201.0 164.3L202.4 164.0L205.1 162.7L207.2 161.0ZM199.6 164.5L196.8 165.6L194.1 165.9L191.3 166.5L188.5 167.0L188.5 167.4L191.3 167.2L194.1 166.5L196.8 166.3L199.6 165.2ZM197.2 136.2L199.6 135.6L201.2 136.8L199.6 137.7L197.5 137.1ZM203.3 145.9L205.1 145.3L205.5 146.7L203.7 147.0ZM350.3 333.9L353.1 333.7L354.8 334.4L353.8 335.7L351.7 335.7L350.3 335.3ZM451.8 193.9L453.4 193.6L456.3 193.6L455.7 195.6L455.4 196.2L453.4 195.3L452.0 194.6ZM446.0 188.7L447.6 188.2L448.3 189.4L448.0 191.8L447.1 192.1L446.3 191.8L446.3 189.8ZM446.6 185.9L447.7 184.8L447.8 186.7L447.4 187.8L446.7 187.4ZM467.2 198.2L468.6 198.1L471.1 198.6L470.9 199.1L468.6 199.1L467.2 198.7ZM479.4 199.1L480.3 198.4L482.6 197.9L481.7 199.1L480.3 199.7L479.5 199.6ZM449.9 157.6L451.6 156.6L452.1 157.9L451.6 159.3L450.2 158.9ZM459.7 153.9L460.7 152.1L461.3 152.1L460.7 153.9ZM219.0 222.3L220.3 222.9L219.6 224.0L219.0 223.3ZM661.5 279.2L663.6 280.5L665.7 282.5L665.0 282.5L662.9 281.1L661.5 279.8ZM679.9 275.2L681.7 275.4L681.6 276.4L679.9 276.3ZM508.4 233.2L510.1 233.2L509.9 233.7L508.7 233.7ZM260.7 104.8L264.9 108.7L270.1 106.6L273.6 101.1L274.5 98.3L272.2 94.3L267.4 92.8L262.5 93.8L261.8 100.2ZM272.3 113.3L274.0 116.1L277.0 119.1L281.9 118.8L285.3 117.6L288.8 117.2L292.3 115.3L294.7 114.5L295.2 110.8L292.9 106.6L290.2 102.1L289.1 99.2L286.4 99.2L285.6 103.4L284.6 105.2L284.0 102.1L281.9 100.7L279.8 101.1L277.0 98.8L275.2 98.8L272.2 102.1L270.1 106.1L271.8 107.4L275.4 107.0L272.1 108.3L272.1 110.4L272.6 110.8L279.8 110.8L280.5 111.7L275.7 112.5ZM297.1 117.2L299.9 119.1L302.3 118.0L302.2 114.9L299.9 113.7L297.8 115.3ZM293.6 104.8L292.9 100.7L295.7 95.8L299.2 95.8L300.5 100.2L300.5 104.8L297.8 107.4L294.3 106.1ZM302.6 104.8L302.3 96.8L306.1 94.8L309.8 95.8L308.8 100.2L306.8 103.4L304.3 104.8ZM307.5 92.2L313.0 92.8L318.5 92.8L324.1 92.2L324.8 87.4L322.7 82.9L317.1 83.5L311.6 81.7L307.5 81.1L301.2 79.3L301.2 85.7L306.1 88.0ZM301.2 90.1L305.4 91.7L305.4 86.9L301.9 86.9ZM290.9 90.1L296.4 90.1L299.6 87.4L298.5 80.5L293.6 81.7L290.2 85.7ZM272.2 84.6L275.0 89.6L277.7 92.8L281.2 93.3L288.1 90.1L288.8 86.9L287.4 83.5L284.0 79.9L278.4 83.5L274.3 81.1ZM263.9 82.9L268.0 86.3L272.2 81.1L273.6 74.9L268.7 73.6L264.6 78.7ZM311.6 83.5L318.5 82.3L324.1 83.5L327.1 79.9L329.6 72.3L331.0 57.8L310.2 57.8L310.2 77.4ZM315.1 129.1L317.1 128.1L319.2 128.8L322.7 133.0L323.8 135.3L322.0 136.2L319.9 134.3L316.7 137.4L314.1 135.9L315.3 133.0ZM319.9 138.0L321.3 138.0L322.0 139.3L320.6 139.8ZM323.6 139.6L324.8 139.8L324.8 141.9L323.8 141.6ZM327.5 121.4L330.3 120.3L331.7 122.5L329.6 123.9ZM343.4 141.0L338.6 139.3L335.1 136.2L332.4 133.4L328.2 133.7L326.8 132.1L328.2 130.1L332.4 129.8L333.7 126.4L333.7 121.7L331.7 119.1L328.2 116.5L325.4 113.3L321.3 113.3L317.8 113.7L315.1 112.1L310.9 109.1L310.2 102.5L310.9 97.8L315.8 96.3L317.1 100.2L317.8 107.0L319.9 102.5L322.7 96.8L325.4 97.8L328.2 101.6L331.7 105.7L335.8 109.1L340.0 113.3L341.3 117.2L343.4 121.0L347.6 123.9L349.6 125.7L349.0 128.8L346.2 131.4L341.3 127.1L344.8 133.0L346.2 136.2L344.8 138.3L340.0 135.6L342.7 139.8ZM345.5 171.1L348.3 171.6L349.4 172.6L346.9 172.2ZM345.6 177.2L349.0 178.0L348.3 179.0L346.2 178.4ZM-70.6 197.2L-71.9 196.5L-73.4 195.3L-75.5 195.6L-75.4 193.2L-76.3 192.7L-75.5 190.0L-75.2 188.2L-75.5 185.7L-76.0 184.8L-74.2 183.5L-71.2 183.7L-68.4 183.9L-65.7 184.0L-65.1 181.9L-64.7 179.0L-66.2 176.6L-69.4 175.1L-69.7 174.1L-67.3 173.3L-65.4 173.7L-65.5 171.4L-63.2 172.0L-61.1 170.3L-60.7 168.8L-58.3 167.7L-57.4 165.9L-56.5 164.0L-54.9 163.1L-53.2 162.7L-51.4 162.0L-51.1 159.6L-51.8 157.9L-51.8 154.4L-50.0 153.9L-48.7 152.6L-48.9 155.7L-48.2 156.2L-49.4 158.6L-49.6 159.8L-48.2 161.0L-48.0 161.7L-46.3 161.0L-44.5 160.5L-43.4 162.0L-41.1 161.0L-37.6 160.1L-35.8 160.8L-34.1 159.3L-34.1 156.9L-34.1 154.4L-33.0 152.9L-31.4 154.4L-30.0 154.4L-29.6 151.3L-30.7 150.0L-30.7 148.4L-28.6 147.8L-24.5 147.8L-21.4 146.7L-23.8 145.1L-27.2 145.3L-30.0 146.4L-32.1 146.4L-33.7 144.2L-33.7 140.7L-33.9 137.7L-32.1 135.6L-29.3 132.4L-28.1 130.8L-29.3 128.8L-32.8 129.4L-33.7 133.0L-36.9 137.1L-39.0 140.7L-39.4 143.6L-39.0 144.8L-37.2 146.4L-38.0 148.4L-39.9 150.5L-40.4 154.4L-41.1 156.4L-43.1 156.9L-43.5 158.4L-45.2 158.4L-45.8 156.4L-46.6 153.1L-47.7 149.2L-48.5 147.8L-50.0 149.4L-52.1 151.6L-53.5 151.8L-55.4 149.7L-56.3 145.6L-56.3 142.2L-56.0 140.1L-53.5 137.7L-50.7 135.6L-48.7 133.0L-46.6 129.8L-45.2 126.4L-43.1 122.8L-41.7 119.9L-39.7 117.2L-36.9 114.1L-33.4 112.5L-30.7 110.0L-27.5 108.7L-24.5 109.1L-20.3 112.1L-21.7 114.5L-17.5 115.7L-13.4 117.2L-7.9 121.0L-6.1 124.6L-7.2 127.1L-10.6 127.8L-15.5 126.0L-18.2 124.3L-15.1 131.4L-14.9 133.4L-11.3 135.0L-10.6 133.0L-7.2 132.7L-7.9 129.8L-5.1 126.7L-2.3 126.4L-2.1 121.0L-3.3 118.8L0.4 119.9L0.7 125.0L2.9 122.5L6.0 121.0L10.8 119.9L12.2 120.3L16.3 118.4L19.8 118.4L20.9 114.1L26.0 116.1L28.8 119.1L31.6 120.3L32.2 117.6L29.5 114.9L29.2 110.0L31.6 105.7L32.2 101.1L34.3 98.8L37.1 101.1L37.5 108.3L36.8 112.1L37.4 117.2L38.7 121.0L35.7 125.7L37.1 127.1L39.2 123.6L40.5 119.1L39.2 115.3L38.9 109.1L40.5 103.4L44.0 103.4L44.7 108.3L47.5 104.8L51.6 111.2L51.6 113.3L50.9 107.0L48.8 100.2L48.8 97.3L55.8 95.8L57.1 90.1L64.1 85.7L72.4 82.9L80.7 74.3L84.8 78.7L91.7 81.7L94.5 87.4L90.3 93.8L87.6 96.3L83.4 100.2L88.9 95.8L93.8 97.8L97.2 96.8L101.4 100.2L106.9 99.2L111.1 97.8L112.5 96.8L115.9 101.1L115.9 109.1L120.8 107.0L124.9 107.0L127.7 107.0L130.4 103.0L131.8 101.1L138.7 103.4L144.3 104.8L147.7 109.6L154.0 109.1L158.1 113.3L160.9 114.9L166.4 115.3L169.2 113.3L172.6 113.3L171.9 116.5L176.1 114.1L180.2 114.5L184.4 117.6L187.1 119.1L189.9 122.1L194.1 124.6L197.5 126.4L200.0 128.1L198.9 130.1L196.1 133.4L194.1 133.4L191.3 130.4L187.8 128.4L187.1 130.8L185.1 132.1L182.3 132.4L184.4 137.7L184.8 139.8L178.8 141.6L174.7 144.2L172.3 146.4L169.2 145.1L165.0 146.4L163.6 149.2L162.2 151.8L160.9 153.1L162.2 156.4L160.9 159.3L158.1 161.7L158.1 164.0L155.7 166.3L153.7 168.5L152.6 165.2L152.0 161.7L152.3 156.9L154.0 152.3L156.7 150.5L160.2 146.4L162.9 142.2L163.6 139.3L160.9 140.7L158.1 142.8L158.1 145.1L154.0 141.6L151.2 147.8L148.4 148.6L145.7 147.8L142.9 147.3L137.4 148.1L133.9 149.2L130.4 152.3L127.7 155.7L123.8 160.1L126.3 161.7L127.7 162.2L130.4 161.7L132.2 163.6L131.8 166.3L131.1 169.6L130.9 173.9L129.1 177.0L126.3 180.0L124.2 182.9L120.8 184.8L119.2 184.6L117.6 186.1L116.3 187.6L115.9 188.9L113.3 190.7L113.2 191.8L114.4 193.0L115.8 195.6L115.9 197.7L115.2 198.9L113.2 199.6L111.6 199.9L111.6 198.2L111.9 195.6L111.2 194.3L109.7 193.9L110.0 192.1L108.9 190.3L106.2 191.2L104.6 192.5L105.3 190.0L105.3 188.7L102.8 190.3L101.4 191.6L99.6 192.1L100.7 193.9L101.4 195.1L103.7 194.3L106.2 195.0L104.2 196.3L103.2 197.4L101.8 199.1L103.2 200.7L104.2 203.2L105.4 204.9L105.3 206.0L103.9 206.8L105.5 207.6L105.1 209.7L103.7 211.2L102.5 213.5L101.4 214.8L100.2 215.8L98.6 217.3L97.2 218.3L94.9 219.0L93.8 219.3L91.7 220.0L89.6 220.6L89.4 222.1L88.7 220.3L86.9 220.0L85.5 220.6L84.4 221.8L83.1 224.0L84.1 225.8L85.9 227.9L87.4 229.4L88.0 232.0L88.0 234.1L87.3 235.2L85.2 236.2L84.5 236.5L84.1 237.6L82.3 238.7L81.9 237.2L81.3 236.3L80.1 236.1L79.3 234.8L78.3 233.8L76.5 233.1L76.4 232.1L75.1 232.2L75.1 234.1L74.4 235.5L74.0 237.6L75.1 238.3L75.5 239.7L76.4 241.1L77.5 241.5L78.6 242.5L79.7 243.9L80.0 245.3L79.8 246.9L80.9 248.9L80.0 249.0L78.6 248.0L77.1 246.9L75.9 245.3L75.7 243.2L75.1 241.8L74.2 240.4L72.9 239.7L72.9 237.6L73.3 235.5L73.2 233.4L72.6 231.2L71.9 229.1L71.8 227.7L70.7 227.1L68.9 228.7L67.2 228.4L67.5 226.2L66.8 224.0L65.4 222.6L64.5 221.4L63.8 219.1L62.0 218.9L59.9 219.9L58.5 220.0L57.1 220.6L56.9 221.8L55.8 222.7L54.4 223.4L53.0 225.0L50.6 227.2L49.1 228.4L47.7 229.4L47.6 232.0L47.2 234.4L47.2 236.5L46.1 237.9L45.0 238.4L44.0 239.6L42.6 238.3L42.2 236.9L41.2 234.5L40.3 232.7L39.4 230.1L38.9 229.1L38.1 226.9L37.5 224.0L37.4 221.8L37.2 220.3L37.1 219.3L36.5 221.1L34.7 221.5L32.5 219.9L32.1 219.1L33.9 218.3L32.0 217.8L31.1 217.0L30.2 216.6L29.5 215.4L28.8 214.5L26.0 214.8L22.6 214.9L19.8 214.6L17.0 214.2L15.9 212.8L15.0 211.8L12.2 212.6L10.1 212.0L8.0 210.6L7.1 208.9L6.0 207.0L4.6 206.6L3.9 207.3L3.2 208.1L3.9 209.7L4.9 211.2L6.2 212.8L7.1 214.3L7.1 215.4L7.8 213.4L8.2 215.1L8.2 216.1L10.1 216.4L12.2 216.1L13.3 214.6L14.4 213.5L14.8 213.1L14.8 215.1L15.1 216.1L17.0 217.0L19.5 218.9L18.0 221.8L16.8 224.0L16.3 225.5L13.6 226.2L11.5 226.9L9.0 228.4L6.0 229.8L3.9 231.2L1.1 232.1L-0.9 232.9L-3.0 233.1L-3.4 232.0L-3.8 229.8L-4.3 227.7L-5.4 225.5L-6.8 223.3L-8.4 221.1L-9.9 218.1L-11.3 216.1L-12.3 213.5L-14.1 211.2L-15.1 210.4L-14.8 208.1L-15.7 210.4L-17.3 209.7L-18.1 207.4L-18.5 205.3L-16.4 205.5L-15.7 205.2L-15.1 204.0L-14.8 202.4L-13.9 200.7L-13.5 199.1L-13.4 197.4L-13.1 196.3L-14.8 196.3L-16.2 197.0L-18.2 197.2L-20.3 196.0L-21.7 196.9L-23.1 196.3L-24.5 196.2L-25.4 195.6L-25.6 193.9L-26.5 193.0L-26.1 191.6L-26.9 191.2L-26.9 190.3L-27.2 189.3L-27.9 188.7L-30.0 189.1L-30.3 190.3L-31.5 189.4L-31.8 191.2L-30.7 193.0L-30.0 193.9L-31.1 193.9L-31.1 195.1L-31.6 196.5L-33.2 196.0L-33.7 194.3L-34.0 193.4L-34.6 192.1L-35.5 190.9L-36.3 189.4L-36.2 187.1L-37.6 185.7L-39.7 184.8L-41.7 182.9L-43.1 180.6L-44.4 181.0L-44.2 179.6L-46.0 180.2L-46.2 182.3L-44.5 183.7L-43.5 185.7L-41.1 186.9L-39.7 188.5L-37.6 190.2L-39.7 189.6L-40.2 190.9L-39.5 192.1L-40.4 193.4L-41.5 194.1L-41.3 192.7L-41.1 191.2L-42.0 190.2L-43.1 189.3L-45.2 188.0L-46.3 187.1L-48.0 185.9L-48.7 184.8L-49.1 183.1L-50.7 182.1L-52.8 183.3L-54.9 184.6L-56.3 184.0L-57.6 183.9L-58.8 184.8L-58.8 186.1L-60.1 187.8L-62.1 189.1L-63.6 191.2L-63.0 192.5L-64.0 193.9L-64.3 194.6L-65.9 196.0L-69.3 196.2ZM183.7 109.1L185.8 110.0L189.2 108.7L187.8 107.0L185.1 107.0Z"/></clipPath>
<clipPath id="box"><rect x="185.8" y="79.5" width="497.8" height="281"/></clipPath>
</defs>
<g clip-path="url(#box)">
<path d="M218.3 107.9L224.5 110.0L230.0 112.1L236.9 112.9L239.7 114.9L245.2 117.2L249.4 115.3L253.5 113.3L257.7 111.7L261.8 115.7L267.4 114.1L272.9 117.2L277.0 120.3L282.6 121.4L285.3 119.9L289.5 121.0L293.6 121.7L299.2 119.9L301.9 120.3L301.9 113.3L303.3 105.2L306.8 109.1L308.2 115.3L309.5 119.1L313.0 121.7L315.8 121.0L316.5 115.3L321.3 114.1L322.0 119.1L320.6 126.4L317.1 127.1L314.4 130.4L313.7 134.0L310.2 135.3L307.5 139.3L304.7 143.6L304.0 149.2L306.1 150.5L306.8 154.4L311.6 155.7L317.1 158.6L320.9 159.1L321.3 164.0L323.4 167.9L325.4 167.4L325.7 162.9L324.8 159.3L327.5 156.9L328.9 153.1L326.1 149.7L327.5 146.4L326.8 139.8L332.4 140.1L335.8 142.8L338.6 143.6L337.9 149.2L340.7 151.0L343.4 149.2L345.5 145.3L348.3 150.5L350.3 155.7L352.4 159.3L355.2 161.7L357.7 165.2L356.6 167.4L353.1 170.1L349.0 170.3L342.7 170.3L340.0 172.8L337.9 176.0L336.5 177.4L338.6 175.3L342.0 173.3L345.5 172.6L345.5 174.5L343.4 174.9L344.8 177.0L345.5 178.6L347.6 179.2L349.6 179.6L351.7 179.0L351.4 177.0L350.3 180.4L346.9 181.7L344.1 183.7L343.1 182.3L345.1 180.2L342.0 181.0L339.3 182.5L337.5 183.9L336.8 185.7L337.9 187.1L335.8 187.8L332.6 188.9L332.1 191.1L331.0 192.5L330.0 194.8L329.6 196.0L330.3 198.6L328.2 199.9L326.1 201.1L324.1 203.2L322.4 205.2L322.3 207.3L323.4 210.0L323.9 212.8L323.5 214.8L322.4 214.8L321.6 213.2L320.3 210.7L320.2 208.9L318.5 207.3L316.5 207.8L314.4 206.6L311.6 206.8L310.9 208.5L308.8 208.4L305.4 207.8L303.3 208.5L300.5 210.4L300.1 213.5L299.4 216.6L299.6 219.1L300.3 221.8L301.7 223.7L303.3 224.6L304.7 225.2L307.5 224.6L308.8 223.7L309.5 221.4L310.2 220.8L313.0 220.2L314.7 220.5L313.7 222.9L313.3 225.0L312.6 226.2L311.9 228.5L313.7 228.7L315.8 228.5L317.8 228.7L319.6 229.8L319.2 232.7L318.9 235.5L320.2 237.5L322.0 238.3L324.1 238.0L326.1 237.6L327.7 238.9L327.0 240.8L326.3 239.3L324.8 238.4L323.5 239.4L324.1 240.5L322.7 240.7L321.6 239.7L319.9 239.3L318.9 238.9L317.4 237.2L316.0 236.6L316.0 235.4L314.7 233.7L313.5 232.7L312.3 232.4L310.2 231.7L308.2 231.2L307.0 230.4L304.7 228.2L303.3 228.1L301.2 228.8L299.2 228.1L296.4 226.9L293.6 225.5L290.9 224.0L288.8 222.6L289.1 220.3L288.1 218.1L285.3 215.1L283.3 212.8L281.9 211.2L279.8 209.2L278.4 206.5L276.3 204.5L275.9 206.5L277.7 208.9L279.1 211.2L280.8 213.5L281.9 215.8L283.3 217.8L282.3 218.1L280.5 215.8L279.5 213.8L277.7 212.3L275.9 210.7L276.8 209.2L275.0 207.3L273.6 204.9L272.8 203.2L271.0 200.7L268.0 199.9L266.3 196.5L265.3 194.3L263.6 192.1L262.8 189.6L262.9 186.7L262.5 184.8L263.2 178.6L262.2 174.1L264.6 174.5L265.3 176.0L264.9 172.8L263.9 171.8L261.8 170.3L259.1 168.5L257.7 165.2L255.6 161.7L254.5 159.8L252.8 158.1L251.5 155.7L250.1 153.1L248.0 151.3L245.9 151.0L243.8 149.2L241.4 147.0L238.3 146.4L235.5 146.4L232.8 144.2L230.0 146.4L227.2 148.4L224.8 148.6L225.9 144.2L227.2 143.1L224.5 145.1L222.4 148.4L221.0 151.0L218.3 153.9L215.5 156.9L212.0 158.9L209.3 159.8L207.2 160.3L210.7 157.4L213.4 155.7L216.2 152.3L217.2 149.7L214.8 150.2L211.3 150.0L210.7 147.0L207.9 146.4L206.1 143.6L205.1 140.7L206.8 137.7L210.0 136.2L212.0 134.6L212.0 132.1L209.3 133.0L205.8 133.0L202.4 129.4L205.1 127.1L208.6 126.4L210.7 125.0L208.6 123.9L204.4 119.9L205.8 117.6L209.3 115.3L212.0 112.1L214.8 110.0Z" fill="#5470dc"/>
<path d="M373.8 147.0L368.3 143.6L364.9 137.7L362.8 131.4L360.7 124.6L361.4 119.1L364.2 115.3L359.3 113.3L359.3 107.0L357.9 100.2L355.2 90.1L351.7 84.6L343.4 84.6L337.9 78.7L335.1 70.9L340.7 57.8L351.7 40.0L372.5 23.5L393.2 23.5L407.0 40.0L411.2 57.8L408.4 72.3L408.4 84.6L407.0 92.8L404.3 100.2L404.3 107.0L404.3 111.2L400.8 115.3L398.7 119.1L393.2 121.0L389.1 124.6L384.2 128.8L379.4 131.4L378.0 136.2L375.9 142.2L374.5 146.4Z" fill="#f3f3f3"/>
<path d="M400.8 129.8L404.3 126.7L409.8 127.4L412.6 126.4L414.6 128.1L416.0 131.4L414.0 133.7L409.1 136.5L405.7 135.3L403.3 135.0L404.3 133.0L401.5 131.8L403.6 130.4Z" fill="#b4e1f7"/>
<path d="M327.7 238.9L328.5 239.7L329.6 237.9L330.3 236.2L331.3 235.4L333.7 234.8L335.5 233.5L336.2 234.4L335.4 235.8L336.5 235.6L337.9 234.8L337.9 233.9L340.0 235.2L340.7 236.1L343.4 236.1L345.5 236.6L348.3 235.9L349.2 236.9L350.3 238.3L351.0 239.0L353.1 239.7L354.5 241.4L355.9 242.5L358.6 242.6L360.0 242.9L362.1 243.9L363.5 244.8L364.2 246.6L365.5 248.3L365.5 250.1L364.2 251.5L366.2 251.1L367.6 251.8L368.3 252.2L371.1 252.5L373.2 253.6L373.8 254.7L376.6 254.7L379.4 254.8L381.5 255.9L383.5 257.4L385.9 258.1L386.3 259.8L386.6 261.2L386.3 263.3L384.9 265.1L383.5 266.5L382.1 268.7L380.8 271.1L380.8 273.9L380.3 276.1L379.4 278.7L378.7 280.5L378.0 282.0L376.6 283.3L374.5 283.5L372.5 284.4L370.4 285.3L368.3 287.0L367.5 288.8L367.5 291.2L366.2 292.7L364.9 295.1L362.8 297.6L361.0 300.4L359.3 302.0L357.3 302.4L355.2 301.5L353.9 300.9L353.9 301.9L355.6 303.4L355.9 305.1L355.0 307.7L353.1 308.9L349.0 309.5L348.5 312.2L346.9 313.3L344.8 312.7L344.8 314.9L346.6 315.9L344.8 316.8L344.1 320.6L341.3 322.6L343.4 325.0L343.4 326.7L341.3 329.8L339.3 332.6L340.0 336.0L339.8 336.9L340.7 338.7L342.7 341.1L344.5 341.5L342.7 342.5L340.0 343.2L337.9 342.7L335.1 341.1L333.0 337.6L331.7 335.3L330.7 332.0L330.3 327.7L331.7 324.6L330.3 323.6L332.4 320.6L333.7 318.7L332.8 314.9L332.6 311.3L333.0 307.7L333.5 306.0L334.3 303.4L335.5 300.0L335.8 295.9L336.0 292.7L336.8 289.6L337.2 286.5L337.3 284.3L337.6 280.5L337.5 276.7L336.1 275.4L333.7 273.9L331.0 272.5L329.2 270.2L327.9 267.5L326.8 264.7L325.4 262.2L324.1 260.2L322.4 259.1L322.3 257.0L323.6 255.5L324.1 254.3L322.7 253.8L323.0 252.2L324.1 250.8L324.1 249.7L325.7 248.9L326.1 247.3L327.5 246.0L327.8 244.6L327.5 242.9L327.7 241.5L327.0 240.8Z" fill="#5a58d7"/>
<path d="M426.5 197.7L427.4 197.5L430.6 198.7L431.9 198.9L433.3 197.9L434.7 197.5L436.8 196.5L438.8 196.0L441.6 196.0L445.1 195.6L448.3 195.1L449.9 195.6L449.2 196.7L449.4 198.2L449.9 199.9L448.7 200.7L449.9 201.9L452.0 202.7L453.0 202.6L455.7 203.6L456.1 204.9L458.9 206.0L461.0 206.8L462.4 205.7L462.4 204.0L464.4 202.6L466.5 203.2L469.3 204.7L472.0 205.2L474.8 205.8L476.2 205.2L477.6 204.9L479.4 205.3L479.6 207.3L479.9 208.1L481.0 210.4L481.7 212.0L482.4 214.3L483.8 216.6L484.1 218.1L485.7 219.6L486.1 221.1L486.3 223.3L487.9 225.5L489.1 228.4L489.3 229.1L491.4 230.5L493.5 232.7L494.6 233.4L494.6 234.8L495.6 236.2L497.6 235.9L499.7 235.4L502.5 235.1L505.5 234.2L505.4 236.2L504.5 238.3L503.2 240.4L502.5 242.5L501.1 244.6L499.0 246.6L497.3 248.0L494.9 250.1L492.8 252.2L492.1 253.2L490.7 254.3L490.0 255.6L489.5 256.5L488.9 257.7L488.4 259.8L489.3 260.5L489.1 262.6L489.7 264.7L490.6 265.4L490.8 268.2L490.8 271.1L490.3 273.2L488.6 274.7L485.9 276.1L484.9 277.4L483.1 278.7L483.4 281.3L483.8 283.5L483.7 285.0L481.0 286.8L480.1 288.1L480.1 290.4L479.5 292.1L477.6 294.2L476.2 296.4L474.1 298.9L472.0 300.4L470.2 300.9L467.2 301.0L465.1 301.2L462.4 302.2L460.3 301.4L460.0 299.2L459.9 297.6L458.6 294.3L457.5 292.1L455.7 289.6L454.8 285.0L454.8 282.7L453.4 280.5L452.0 277.6L451.0 275.1L451.0 273.2L452.0 270.4L453.2 268.2L453.8 266.1L453.0 263.3L452.4 261.2L451.7 259.3L451.4 257.7L450.2 256.3L448.5 254.7L447.6 253.4L446.9 251.8L447.8 250.4L448.0 249.1L448.3 247.3L448.1 246.0L447.8 245.3L446.7 244.4L445.1 244.7L443.7 244.8L442.3 243.6L440.9 242.1L439.4 241.9L437.5 242.1L436.4 242.3L434.7 243.0L433.3 243.6L431.9 244.2L430.6 243.7L429.2 243.5L426.4 244.2L424.3 244.7L422.3 243.9L419.8 242.1L418.8 241.2L417.4 240.5L416.4 239.0L416.3 237.6L414.6 236.2L414.0 235.5L412.6 234.2L411.6 233.5L411.5 232.1L410.5 230.2L411.9 228.4L412.2 225.5L412.6 223.3L411.9 222.6L411.2 221.1L411.2 219.9L412.6 217.0L414.0 215.5L414.2 214.0L416.0 212.0L416.7 210.9L418.8 209.7L420.9 208.2L421.3 206.6L421.1 204.9L422.3 202.7L424.2 201.4L425.3 200.7L426.1 199.1Z" fill="#9c7cc0"/>
<path d="M502.9 267.5L504.5 272.5L503.6 274.7L503.0 276.1L501.8 280.5L500.4 285.0L499.7 286.5L497.2 287.4L495.6 286.5L494.9 284.3L494.6 282.0L496.0 279.0L496.1 277.6L495.6 275.4L496.2 273.5L498.3 272.9L499.7 271.8L501.1 270.1L502.2 268.2Z" fill="#9c7cc0"/>
<path d="M427.2 197.2L426.0 196.5L424.5 195.3L422.4 195.6L422.5 193.2L421.6 192.7L422.4 190.0L422.7 188.2L422.4 185.7L421.8 184.8L423.6 183.5L426.7 183.7L429.4 183.9L432.2 184.0L432.8 181.9L433.2 179.0L431.7 176.6L428.5 175.1L428.2 174.1L430.6 173.3L432.5 173.7L432.3 171.4L434.7 172.0L436.8 170.3L437.2 168.8L439.5 167.7L440.5 165.9L441.3 164.0L443.0 163.1L444.7 162.7L446.5 162.0L446.7 159.6L446.0 157.9L446.0 154.4L447.8 153.9L449.2 152.6L448.9 155.7L449.6 156.2L448.5 158.6L448.3 159.8L449.6 161.0L449.9 161.7L451.6 161.0L453.4 160.5L454.5 162.0L456.8 161.0L460.3 160.1L462.1 160.8L463.7 159.3L463.7 156.9L463.7 154.4L464.8 152.9L466.5 154.4L467.9 154.4L468.3 151.3L467.2 150.0L467.2 148.4L469.3 147.8L473.4 147.8L476.5 146.7L474.1 145.1L470.7 145.3L467.9 146.4L465.8 146.4L464.2 144.2L464.2 140.7L464.0 137.7L465.8 135.6L468.6 132.4L469.8 130.8L468.6 128.8L465.1 129.4L464.2 133.0L461.0 137.1L458.9 140.7L458.5 143.6L458.9 144.8L460.7 146.4L459.9 148.4L457.9 150.5L457.5 154.4L456.8 156.4L454.8 156.9L454.3 158.4L452.7 158.4L452.1 156.4L451.3 153.1L450.2 149.2L449.4 147.8L447.8 149.4L445.8 151.6L444.4 151.8L442.4 149.7L441.6 145.6L441.6 142.2L441.9 140.1L444.4 137.7L447.1 135.6L449.2 133.0L451.3 129.8L452.7 126.4L454.8 122.8L456.1 119.9L458.2 117.2L461.0 114.1L464.4 112.5L467.2 110.0L470.4 108.7L473.4 109.1L477.6 112.1L476.2 114.5L480.3 115.7L484.5 117.2L490.0 121.0L491.8 124.6L490.7 127.1L487.3 127.8L482.4 126.0L479.6 124.3L482.8 131.4L483.0 133.4L486.6 135.0L487.3 133.0L490.7 132.7L490.0 129.8L492.8 126.7L495.6 126.4L495.8 121.0L494.6 118.8L498.3 119.9L498.6 125.0L500.8 122.5L503.9 121.0L508.7 119.9L510.1 120.3L514.2 118.4L517.7 118.4L518.8 114.1L523.9 116.1L526.7 119.1L529.4 120.3L530.1 117.6L527.4 114.9L527.1 110.0L529.4 105.7L530.1 101.1L532.2 98.8L535.0 101.1L535.4 108.3L534.7 112.1L535.2 117.2L536.6 121.0L533.6 125.7L535.0 127.1L537.0 123.6L538.4 119.1L537.0 115.3L536.8 109.1L538.4 103.4L541.9 103.4L542.6 108.3L545.3 104.8L549.5 111.2L549.5 113.3L548.8 107.0L546.7 100.2L546.7 97.3L553.6 95.8L555.0 90.1L561.9 85.7L570.2 82.9L578.5 74.3L582.7 78.7L589.6 81.7L592.4 87.4L588.2 93.8L585.4 96.3L581.3 100.2L586.8 95.8L591.7 97.8L595.1 96.8L599.3 100.2L604.8 99.2L609.0 97.8L610.3 96.8L613.8 101.1L613.8 109.1L618.6 107.0L622.8 107.0L625.6 107.0L628.3 103.0L629.7 101.1L636.6 103.4L642.1 104.8L645.6 109.6L651.8 109.1L656.0 113.3L658.7 114.9L664.3 115.3L667.0 113.3L670.5 113.3L669.8 116.5L674.0 114.1L678.1 114.5L682.3 117.6L685.0 119.1L687.8 122.1L691.9 124.6L695.4 126.4L697.9 128.1L696.8 130.1L694.0 133.4L691.9 133.4L689.2 130.4L685.7 128.4L685.0 130.8L682.9 132.1L680.2 132.4L682.3 137.7L682.7 139.8L676.7 141.6L672.6 144.2L670.2 146.4L667.0 145.1L662.9 146.4L661.5 149.2L660.1 151.8L658.7 153.1L660.1 156.4L658.7 159.3L656.0 161.7L656.0 164.0L653.6 166.3L651.6 168.5L650.4 165.2L649.9 161.7L650.2 156.9L651.8 152.3L654.6 150.5L658.1 146.4L660.8 142.2L661.5 139.3L658.7 140.7L656.0 142.8L656.0 145.1L651.8 141.6L649.1 147.8L646.3 148.6L643.5 147.8L640.8 147.3L635.2 148.1L631.8 149.2L628.3 152.3L625.6 155.7L621.7 160.1L624.2 161.7L625.6 162.2L628.3 161.7L630.1 163.6L629.7 166.3L629.0 169.6L628.7 173.9L626.9 177.0L624.2 180.0L622.1 182.9L618.6 184.8L617.1 184.6L615.5 186.1L614.2 187.6L613.8 188.9L611.2 190.7L611.0 191.8L612.3 193.0L613.7 195.6L613.8 197.7L613.1 198.9L611.0 199.6L609.5 199.9L609.5 198.2L609.8 195.6L609.1 194.3L607.6 193.9L607.9 192.1L606.7 190.3L604.1 191.2L602.5 192.5L603.1 190.0L603.1 188.7L600.7 190.3L599.3 191.6L597.5 192.1L598.6 193.9L599.3 195.1L601.6 194.3L604.1 195.0L602.0 196.3L601.1 197.4L599.7 199.1L601.1 200.7L602.0 203.2L603.3 204.9L603.1 206.0L601.8 206.8L603.4 207.6L603.0 209.7L601.6 211.2L600.4 213.5L599.3 214.8L598.0 215.8L596.5 217.3L595.1 218.3L592.8 219.0L591.7 219.3L589.6 220.0L587.5 220.6L587.2 222.1L586.6 220.3L584.8 220.0L583.4 220.6L582.3 221.8L581.0 224.0L582.0 225.8L583.8 227.9L585.3 229.4L585.9 232.0L585.9 234.1L585.2 235.2L583.1 236.2L582.4 236.5L582.0 237.6L580.2 238.7L579.8 237.2L579.2 236.3L578.0 236.1L577.1 234.8L576.2 233.8L574.4 233.1L574.2 232.1L573.0 232.2L573.0 234.1L572.3 235.5L571.9 237.6L573.0 238.3L573.4 239.7L574.2 241.1L575.4 241.5L576.5 242.5L577.6 243.9L577.8 245.3L577.7 246.9L578.8 248.9L577.8 249.0L576.5 248.0L574.9 246.9L573.8 245.3L573.6 243.2L573.0 241.8L572.0 240.4L570.8 239.7L570.8 237.6L571.2 235.5L571.1 233.4L570.5 231.2L569.8 229.1L569.7 227.7L568.6 227.1L566.8 228.7L565.1 228.4L565.4 226.2L564.7 224.0L563.3 222.6L562.4 221.4L561.7 219.1L559.9 218.9L557.8 219.9L556.4 220.0L555.0 220.6L554.7 221.8L553.6 222.7L552.3 223.4L550.9 225.0L548.5 227.2L547.0 228.4L545.6 229.4L545.5 232.0L545.1 234.4L545.1 236.5L544.0 237.9L542.9 238.4L541.9 239.6L540.5 238.3L540.1 236.9L539.1 234.5L538.1 232.7L537.3 230.1L536.8 229.1L535.9 226.9L535.4 224.0L535.2 221.8L535.1 220.3L535.0 219.3L534.4 221.1L532.6 221.5L530.4 219.9L530.0 219.1L531.8 218.3L529.9 217.8L529.0 217.0L528.1 216.6L527.4 215.4L526.7 214.5L523.9 214.8L520.4 214.9L517.7 214.6L514.9 214.2L513.8 212.8L512.8 211.8L510.1 212.6L508.0 212.0L505.9 210.6L505.0 208.9L503.9 207.0L502.5 206.6L501.8 207.3L501.1 208.1L501.8 209.7L502.7 211.2L504.1 212.8L505.0 214.3L505.0 215.4L505.6 213.4L506.1 215.1L506.1 216.1L508.0 216.4L510.1 216.1L511.2 214.6L512.3 213.5L512.7 213.1L512.7 215.1L513.0 216.1L514.9 217.0L517.4 218.9L515.9 221.8L514.6 224.0L514.2 225.5L511.5 226.2L509.4 226.9L506.9 228.4L503.9 229.8L501.8 231.2L499.0 232.1L496.9 232.9L494.9 233.1L494.4 232.0L494.0 229.8L493.6 227.7L492.5 225.5L491.1 223.3L489.5 221.1L487.9 218.1L486.6 216.1L485.6 213.5L483.8 211.2L482.8 210.4L483.1 208.1L482.1 210.4L480.6 209.7L479.8 207.4L479.4 205.3L481.4 205.5L482.1 205.2L482.8 204.0L483.1 202.4L483.9 200.7L484.3 199.1L484.5 197.4L484.8 196.3L483.1 196.3L481.7 197.0L479.6 197.2L477.6 196.0L476.2 196.9L474.8 196.3L473.4 196.2L472.5 195.6L472.3 193.9L471.3 193.0L471.8 191.6L470.9 191.2L470.9 190.3L470.7 189.3L470.0 188.7L467.9 189.1L467.6 190.3L466.4 189.4L466.1 191.2L467.2 193.0L467.9 193.9L466.8 193.9L466.8 195.1L466.2 196.5L464.7 196.0L464.2 194.3L463.9 193.4L463.3 192.1L462.4 190.9L461.5 189.4L461.7 187.1L460.3 185.7L458.2 184.8L456.1 182.9L454.8 180.6L453.5 181.0L453.6 179.6L451.8 180.2L451.7 182.3L453.4 183.7L454.3 185.7L456.8 186.9L458.2 188.5L460.3 190.2L458.2 189.6L457.7 190.9L458.3 192.1L457.5 193.4L456.4 194.1L456.6 192.7L456.8 191.2L455.9 190.2L454.8 189.3L452.7 188.0L451.6 187.1L449.9 185.9L449.2 184.8L448.8 183.1L447.1 182.1L445.1 183.3L443.0 184.6L441.6 184.0L440.2 183.9L439.1 184.8L439.1 186.1L437.7 187.8L435.8 189.1L434.3 191.2L434.8 192.5L433.9 193.9L433.6 194.6L431.9 196.0L428.6 196.2Z" fill="#5470dc"/>
<path d="M426.8 170.5L429.9 170.1L433.0 169.2L436.5 168.1L435.8 167.4L437.1 165.0L435.1 164.0L434.7 162.7L434.4 161.2L432.8 159.3L431.9 157.4L430.6 156.9L431.2 155.7L431.9 153.1L429.9 152.6L429.2 152.9L430.6 150.2L427.8 150.2L427.1 153.1L426.1 155.1L427.1 156.9L427.8 159.3L428.1 160.1L429.9 159.6L430.6 161.7L430.6 163.1L428.5 163.4L428.5 164.5L429.2 165.6L427.5 166.5L429.2 167.2L430.6 167.7L429.9 168.1L428.5 168.5Z" fill="#5470dc"/>
<path d="M426.4 165.9L426.1 163.4L427.1 160.5L425.7 158.9L424.3 158.6L422.9 160.5L420.9 161.2L420.9 163.1L422.3 163.8L421.1 165.9L420.6 166.8L421.6 167.4L423.6 166.8L425.7 166.1Z" fill="#5470dc"/>
<path d="M505.9 105.7L508.0 109.6L510.8 110.8L514.2 110.8L512.1 104.8L512.1 98.8L514.9 92.8L519.1 87.4L524.6 82.9L529.4 79.3L526.0 78.7L520.4 82.9L514.9 87.4L511.5 92.8L508.7 98.8L506.6 103.4Z" fill="#5470dc"/>
<path d="M624.9 88.5L625.6 91.2L628.3 91.2L633.2 90.1L636.6 88.5L635.2 85.7L629.7 84.0L625.6 84.6Z" fill="#5470dc"/>
<path d="M638.0 90.1L642.8 91.2L642.1 88.0L638.7 87.4Z" fill="#5470dc"/>
<path d="M628.3 98.3L633.2 99.2L632.5 96.3L629.0 95.8Z" fill="#5470dc"/>
<path d="M681.6 109.1L683.6 110.0L687.1 108.7L685.7 107.0L682.9 107.0Z" fill="#5470dc"/>
<path d="M631.1 161.0L632.5 164.0L632.9 168.5L633.2 171.8L634.5 172.8L632.5 176.0L633.2 177.4L631.8 179.0L631.1 177.0L631.1 173.9L631.1 170.7L630.8 166.3L630.8 162.9Z" fill="#5470dc"/>
<path d="M630.4 180.2L632.5 181.9L635.6 182.9L635.9 184.2L633.9 185.0L632.7 186.7L630.4 185.6L629.0 185.7L628.6 187.6L628.3 185.2L630.1 184.2L630.5 181.9Z" fill="#438fec"/>
<path d="M630.3 187.8L630.9 190.3L630.8 192.1L629.7 193.6L629.6 195.6L629.3 197.4L628.3 199.1L627.9 198.2L626.7 199.6L625.6 199.7L624.2 199.7L623.9 200.2L622.5 201.6L621.5 200.2L621.4 199.6L619.3 200.1L617.7 200.7L615.9 200.7L616.6 199.6L618.2 198.2L620.4 198.1L622.5 198.1L623.1 196.9L623.9 195.1L624.6 195.6L626.0 195.3L626.9 193.9L628.0 192.1L628.3 190.3L628.7 188.5L629.7 188.2Z" fill="#438fec"/>
<path d="M615.9 200.9L617.0 202.4L616.6 204.9L615.5 205.7L614.8 204.9L614.9 203.2L614.1 202.4L614.5 201.4Z" fill="#438fec"/>
<path d="M617.9 200.7L620.4 200.2L621.0 201.1L620.3 201.9L618.6 202.7L617.9 201.9Z" fill="#438fec"/>
<path d="M602.7 214.6L603.4 215.1L602.7 217.3L601.8 219.6L600.9 218.6L600.8 217.3L601.6 215.7Z" fill="#c4e6f6"/>
<path d="M585.0 223.7L586.8 222.4L588.2 223.0L587.5 224.5L586.1 225.2L585.0 224.5Z" fill="#9e5caa"/>
<path d="M545.3 237.2L546.6 238.3L547.8 240.4L547.7 241.8L546.2 242.6L545.3 242.1L545.1 240.4L545.1 238.9Z" fill="#70b2ec"/>
<path d="M601.5 224.8L603.7 224.8L603.8 226.9L602.9 228.7L603.0 230.8L604.4 231.2L606.1 231.5L606.3 233.2L605.2 232.7L604.1 232.0L602.7 231.7L601.5 231.0L601.9 230.4L600.9 230.1L600.7 228.1L601.1 227.5L601.2 226.2Z" fill="#48a4f0"/>
<path d="M608.1 237.2L609.4 239.0L609.6 240.7L609.2 242.1L608.1 243.0L608.0 241.8L606.5 242.2L606.2 240.8L605.4 240.4L603.6 241.2L603.8 239.7L605.2 238.9L607.2 238.9L607.6 238.0Z" fill="#48a4f0"/>
<path d="M586.3 248.0L588.2 248.6L588.6 247.3L591.0 246.4L592.4 244.6L594.0 243.5L595.1 242.2L596.2 241.1L597.5 241.9L598.2 242.8L599.6 243.6L598.6 244.6L597.5 245.0L597.6 246.6L597.9 248.0L599.1 249.4L597.6 249.7L597.2 251.5L596.2 252.6L595.8 254.3L595.1 255.9L593.3 256.5L593.1 255.5L591.0 255.2L589.3 255.6L587.1 255.0L586.8 252.9L585.7 251.5L585.4 250.4L585.4 249.1Z" fill="#5a58d7"/>
<path d="M566.5 243.0L569.5 243.6L571.2 245.5L573.4 247.3L575.1 248.3L577.1 249.7L578.3 250.8L577.8 252.2L579.2 253.3L579.9 254.0L581.3 255.0L581.3 257.0L581.0 258.8L579.4 258.8L578.5 257.7L576.2 256.3L574.4 254.3L573.6 252.2L571.6 250.1L571.2 248.4L569.1 246.4L567.5 244.8L566.5 243.6Z" fill="#5a58d7"/>
<path d="M580.2 260.2L581.3 259.0L582.7 259.0L584.8 259.8L587.5 260.4L588.2 259.7L590.6 260.4L593.1 261.5L593.1 262.9L590.3 262.5L586.8 261.9L584.1 261.6L582.0 260.9Z" fill="#5a58d7"/>
<path d="M593.7 262.0L596.5 262.2L599.3 262.2L602.0 262.3L604.8 262.2L604.8 263.0L601.4 263.2L599.3 263.0L596.5 263.3L594.0 263.0Z" fill="#5a58d7"/>
<path d="M605.5 265.1L607.6 263.3L610.3 262.5L610.6 262.9L607.6 264.3L606.2 265.1Z" fill="#5a58d7"/>
<path d="M600.4 249.7L601.8 249.1L604.8 249.6L607.6 248.6L606.9 250.1L604.8 250.2L602.0 250.1L600.7 250.5Z" fill="#5a58d7"/>
<path d="M615.9 251.9L617.9 251.4L620.0 251.9L620.4 253.8L621.4 255.4L623.5 253.8L624.9 252.9L626.9 253.6L629.7 254.4L632.5 255.5L634.5 256.2L636.3 257.7L638.0 259.1L639.1 260.1L638.4 261.2L640.1 263.3L642.1 264.7L643.3 265.5L641.5 265.3L639.4 264.8L638.1 264.0L636.6 262.2L634.5 261.5L633.2 262.6L632.5 263.6L630.4 263.6L628.3 262.2L626.2 262.3L625.6 260.9L626.7 260.2L625.6 258.4L623.5 257.3L621.4 256.9L619.3 256.3L618.4 255.0L617.5 254.7L619.6 254.1L617.9 253.6L616.1 252.9Z" fill="#5a58d7"/>
<path d="M639.8 258.6L642.8 258.4L644.9 256.6L645.3 257.4L643.5 259.1L641.5 259.5L639.9 259.1Z" fill="#c0c0e0"/>
<path d="M631.8 265.7L633.2 268.2L633.6 270.8L635.6 271.8L636.6 274.7L637.0 277.3L640.1 279.3L641.2 281.0L643.3 283.2L643.5 284.7L645.6 286.5L646.6 288.1L646.6 290.4L647.1 292.3L646.3 295.1L645.6 298.4L643.9 300.5L643.1 302.9L642.1 306.0L642.0 306.8L639.4 307.5L637.2 309.6L635.2 308.4L634.5 308.0L633.2 309.1L630.4 308.2L628.7 307.3L627.9 305.1L626.9 303.5L626.0 303.4L626.2 302.2L625.6 299.2L624.9 300.5L623.9 302.9L622.8 302.0L622.2 302.4L621.4 300.5L620.0 298.9L619.3 297.7L615.9 296.7L613.1 296.9L609.0 298.0L606.2 299.2L605.5 300.7L600.7 300.7L597.9 302.5L595.1 302.2L593.7 301.4L593.9 300.0L594.7 297.6L593.7 295.1L593.2 292.4L592.4 290.4L591.4 288.4L591.7 285.8L591.9 282.9L592.6 281.7L594.4 281.0L596.5 279.9L598.7 279.5L600.7 278.9L602.7 277.6L603.7 276.1L604.1 274.7L605.6 275.1L605.2 273.7L606.9 272.5L608.3 271.1L610.1 270.2L611.7 271.5L612.1 271.8L613.8 271.6L614.1 270.1L614.9 268.5L615.6 268.1L616.6 267.8L618.1 266.5L619.3 267.2L621.4 267.8L623.8 267.5L623.5 269.4L622.5 271.1L622.1 271.8L623.5 272.9L625.6 274.1L627.2 275.4L629.0 275.5L630.1 273.2L630.5 271.1L630.5 268.7L631.1 266.8Z" fill="#9c7cc0"/>
<path d="M634.8 312.5L637.3 313.3L639.8 312.9L639.8 314.9L639.2 317.2L637.7 317.9L636.6 317.6L635.6 315.9L634.8 313.6Z" fill="#9c7cc0"/>
<path d="M673.5 301.5L675.3 303.0L676.4 305.6L677.8 305.6L678.4 307.0L680.9 307.0L681.6 307.2L680.7 309.5L679.5 310.4L678.5 313.1L677.1 314.2L676.4 313.6L677.0 311.6L675.3 310.4L676.3 309.1L676.3 306.8L675.8 305.1L674.0 302.5Z" fill="#f0b4c6"/>
<path d="M673.5 312.2L675.8 313.4L675.3 314.7L674.0 316.8L673.7 318.1L671.6 319.3L671.2 321.6L670.5 322.4L669.1 323.8L667.5 323.8L665.1 322.8L665.0 321.6L667.0 319.1L669.1 317.7L671.2 315.9L672.3 314.2L672.9 312.7Z" fill="#f0b4c6"/>
<path d="M317.3 219.7L319.9 218.1L322.0 218.0L324.1 218.4L327.5 220.0L330.3 221.4L332.1 222.3L330.3 222.7L327.2 222.7L327.9 221.8L326.1 220.6L323.4 219.9L321.3 219.0L319.2 219.3Z" fill="#70b2ec"/>
<path d="M331.8 224.6L333.2 222.9L335.5 222.9L337.9 223.0L340.1 224.6L338.6 225.0L336.5 225.3L335.5 225.9L334.4 225.2L331.8 224.9Z" fill="#c480b0"/>
<path d="M326.4 224.9L328.3 224.8L329.3 225.5L327.9 225.8L326.4 225.3Z" fill="#7a7ad0"/>
<path d="M341.8 224.8L344.0 224.9L343.8 225.5L341.8 225.5Z" fill="#4a8ce4"/>
<path d="M352.7 175.8L354.5 171.8L355.9 169.0L357.7 167.2L357.3 170.3L358.6 171.8L360.7 172.8L361.4 174.9L361.8 176.0L361.1 177.6L360.0 177.0L357.9 177.2L357.3 175.8L354.5 175.8Z" fill="#5470dc"/>
<path d="M257.3 169.0L261.4 170.7L263.9 173.9L262.1 173.7L260.4 172.2L258.0 170.5Z" fill="#5470dc"/>
<path d="M250.8 161.5L252.6 161.7L253.3 165.2L252.1 165.2L251.0 163.4Z" fill="#5470dc"/>
<path d="M221.0 153.6L223.1 151.8L224.2 152.6L222.4 154.9Z" fill="#4a8ce4"/>
<path d="M207.2 160.3L205.1 161.7L202.4 163.1L201.0 164.3L202.4 164.0L205.1 162.7L207.2 161.0Z" fill="#4a8ce4"/>
<path d="M199.6 164.5L196.8 165.6L194.1 165.9L191.3 166.5L188.5 167.0L188.5 167.4L191.3 167.2L194.1 166.5L196.8 166.3L199.6 165.2Z" fill="#4a8ce4"/>
<path d="M197.2 136.2L199.6 135.6L201.2 136.8L199.6 137.7L197.5 137.1Z" fill="#4a8ce4"/>
<path d="M203.3 145.9L205.1 145.3L205.5 146.7L203.7 147.0Z" fill="#4a8ce4"/>
<path d="M350.3 333.9L353.1 333.7L354.8 334.4L353.8 335.7L351.7 335.7L350.3 335.3Z" fill="#f1f1f1"/>
<path d="M451.8 193.9L453.4 193.6L456.3 193.6L455.7 195.6L455.4 196.2L453.4 195.3L452.0 194.6Z" fill="#5a58d7"/>
<path d="M446.0 188.7L447.6 188.2L448.3 189.4L448.0 191.8L447.1 192.1L446.3 191.8L446.3 189.8Z" fill="#5a58d7"/>
<path d="M446.6 185.9L447.7 184.8L447.8 186.7L447.4 187.8L446.7 187.4Z" fill="#5470dc"/>
<path d="M467.2 198.2L468.6 198.1L471.1 198.6L470.9 199.1L468.6 199.1L467.2 198.7Z" fill="#5470dc"/>
<path d="M479.4 199.1L480.3 198.4L482.6 197.9L481.7 199.1L480.3 199.7L479.5 199.6Z" fill="#70b2ec"/>
<path d="M449.9 157.6L451.6 156.6L452.1 157.9L451.6 159.3L450.2 158.9Z" fill="#4a8ce4"/>
<path d="M459.7 153.9L460.7 152.1L461.3 152.1L460.7 153.9Z" fill="#4a8ce4"/>
<path d="M219.0 222.3L220.3 222.9L219.6 224.0L219.0 223.3Z" fill="#4a8ce4"/>
<path d="M661.5 279.2L663.6 280.5L665.7 282.5L665.0 282.5L662.9 281.1L661.5 279.8Z" fill="#c4e6f6"/>
<path d="M679.9 275.2L681.7 275.4L681.6 276.4L679.9 276.3Z" fill="#c0c0e0"/>
<path d="M508.4 233.2L510.1 233.2L509.9 233.7L508.7 233.7Z" fill="#c46096"/>
<path d="M260.7 104.8L264.9 108.7L270.1 106.6L273.6 101.1L274.5 98.3L272.2 94.3L267.4 92.8L262.5 93.8L261.8 100.2Z" fill="#5273da"/>
<path d="M272.3 113.3L274.0 116.1L277.0 119.1L281.9 118.8L285.3 117.6L288.8 117.2L292.3 115.3L294.7 114.5L295.2 110.8L292.9 106.6L290.2 102.1L289.1 99.2L286.4 99.2L285.6 103.4L284.6 105.2L284.0 102.1L281.9 100.7L279.8 101.1L277.0 98.8L275.2 98.8L272.2 102.1L270.1 106.1L271.8 107.4L275.4 107.0L272.1 108.3L272.1 110.4L272.6 110.8L279.8 110.8L280.5 111.7L275.7 112.5Z" fill="#5273da"/>
<path d="M297.1 117.2L299.9 119.1L302.3 118.0L302.2 114.9L299.9 113.7L297.8 115.3Z" fill="#5273da"/>
<path d="M293.6 104.8L292.9 100.7L295.7 95.8L299.2 95.8L300.5 100.2L300.5 104.8L297.8 107.4L294.3 106.1Z" fill="#5273da"/>
<path d="M302.6 104.8L302.3 96.8L306.1 94.8L309.8 95.8L308.8 100.2L306.8 103.4L304.3 104.8Z" fill="#5273da"/>
<path d="M307.5 92.2L313.0 92.8L318.5 92.8L324.1 92.2L324.8 87.4L322.7 82.9L317.1 83.5L311.6 81.7L307.5 81.1L301.2 79.3L301.2 85.7L306.1 88.0Z" fill="#5273da"/>
<path d="M301.2 90.1L305.4 91.7L305.4 86.9L301.9 86.9Z" fill="#5273da"/>
<path d="M290.9 90.1L296.4 90.1L299.6 87.4L298.5 80.5L293.6 81.7L290.2 85.7Z" fill="#5273da"/>
<path d="M272.2 84.6L275.0 89.6L277.7 92.8L281.2 93.3L288.1 90.1L288.8 86.9L287.4 83.5L284.0 79.9L278.4 83.5L274.3 81.1Z" fill="#5273da"/>
<path d="M263.9 82.9L268.0 86.3L272.2 81.1L273.6 74.9L268.7 73.6L264.6 78.7Z" fill="#5273da"/>
<path d="M311.6 83.5L318.5 82.3L324.1 83.5L327.1 79.9L329.6 72.3L331.0 57.8L310.2 57.8L310.2 77.4Z" fill="#5273da"/>
<path d="M315.1 129.1L317.1 128.1L319.2 128.8L322.7 133.0L323.8 135.3L322.0 136.2L319.9 134.3L316.7 137.4L314.1 135.9L315.3 133.0Z" fill="#5273da"/>
<path d="M319.9 138.0L321.3 138.0L322.0 139.3L320.6 139.8Z" fill="#5273da"/>
<path d="M323.6 139.6L324.8 139.8L324.8 141.9L323.8 141.6Z" fill="#5273da"/>
<path d="M327.5 121.4L330.3 120.3L331.7 122.5L329.6 123.9Z" fill="#5273da"/>
<path d="M343.4 141.0L338.6 139.3L335.1 136.2L332.4 133.4L328.2 133.7L326.8 132.1L328.2 130.1L332.4 129.8L333.7 126.4L333.7 121.7L331.7 119.1L328.2 116.5L325.4 113.3L321.3 113.3L317.8 113.7L315.1 112.1L310.9 109.1L310.2 102.5L310.9 97.8L315.8 96.3L317.1 100.2L317.8 107.0L319.9 102.5L322.7 96.8L325.4 97.8L328.2 101.6L331.7 105.7L335.8 109.1L340.0 113.3L341.3 117.2L343.4 121.0L347.6 123.9L349.6 125.7L349.0 128.8L346.2 131.4L341.3 127.1L344.8 133.0L346.2 136.2L344.8 138.3L340.0 135.6L342.7 139.8Z" fill="#5273da"/>
<path d="M345.5 171.1L348.3 171.6L349.4 172.6L346.9 172.2Z" fill="#5273da"/>
<path d="M345.6 177.2L349.0 178.0L348.3 179.0L346.2 178.4Z" fill="#5273da"/>
<path d="M-70.6 197.2L-71.9 196.5L-73.4 195.3L-75.5 195.6L-75.4 193.2L-76.3 192.7L-75.5 190.0L-75.2 188.2L-75.5 185.7L-76.0 184.8L-74.2 183.5L-71.2 183.7L-68.4 183.9L-65.7 184.0L-65.1 181.9L-64.7 179.0L-66.2 176.6L-69.4 175.1L-69.7 174.1L-67.3 173.3L-65.4 173.7L-65.5 171.4L-63.2 172.0L-61.1 170.3L-60.7 168.8L-58.3 167.7L-57.4 165.9L-56.5 164.0L-54.9 163.1L-53.2 162.7L-51.4 162.0L-51.1 159.6L-51.8 157.9L-51.8 154.4L-50.0 153.9L-48.7 152.6L-48.9 155.7L-48.2 156.2L-49.4 158.6L-49.6 159.8L-48.2 161.0L-48.0 161.7L-46.3 161.0L-44.5 160.5L-43.4 162.0L-41.1 161.0L-37.6 160.1L-35.8 160.8L-34.1 159.3L-34.1 156.9L-34.1 154.4L-33.0 152.9L-31.4 154.4L-30.0 154.4L-29.6 151.3L-30.7 150.0L-30.7 148.4L-28.6 147.8L-24.5 147.8L-21.4 146.7L-23.8 145.1L-27.2 145.3L-30.0 146.4L-32.1 146.4L-33.7 144.2L-33.7 140.7L-33.9 137.7L-32.1 135.6L-29.3 132.4L-28.1 130.8L-29.3 128.8L-32.8 129.4L-33.7 133.0L-36.9 137.1L-39.0 140.7L-39.4 143.6L-39.0 144.8L-37.2 146.4L-38.0 148.4L-39.9 150.5L-40.4 154.4L-41.1 156.4L-43.1 156.9L-43.5 158.4L-45.2 158.4L-45.8 156.4L-46.6 153.1L-47.7 149.2L-48.5 147.8L-50.0 149.4L-52.1 151.6L-53.5 151.8L-55.4 149.7L-56.3 145.6L-56.3 142.2L-56.0 140.1L-53.5 137.7L-50.7 135.6L-48.7 133.0L-46.6 129.8L-45.2 126.4L-43.1 122.8L-41.7 119.9L-39.7 117.2L-36.9 114.1L-33.4 112.5L-30.7 110.0L-27.5 108.7L-24.5 109.1L-20.3 112.1L-21.7 114.5L-17.5 115.7L-13.4 117.2L-7.9 121.0L-6.1 124.6L-7.2 127.1L-10.6 127.8L-15.5 126.0L-18.2 124.3L-15.1 131.4L-14.9 133.4L-11.3 135.0L-10.6 133.0L-7.2 132.7L-7.9 129.8L-5.1 126.7L-2.3 126.4L-2.1 121.0L-3.3 118.8L0.4 119.9L0.7 125.0L2.9 122.5L6.0 121.0L10.8 119.9L12.2 120.3L16.3 118.4L19.8 118.4L20.9 114.1L26.0 116.1L28.8 119.1L31.6 120.3L32.2 117.6L29.5 114.9L29.2 110.0L31.6 105.7L32.2 101.1L34.3 98.8L37.1 101.1L37.5 108.3L36.8 112.1L37.4 117.2L38.7 121.0L35.7 125.7L37.1 127.1L39.2 123.6L40.5 119.1L39.2 115.3L38.9 109.1L40.5 103.4L44.0 103.4L44.7 108.3L47.5 104.8L51.6 111.2L51.6 113.3L50.9 107.0L48.8 100.2L48.8 97.3L55.8 95.8L57.1 90.1L64.1 85.7L72.4 82.9L80.7 74.3L84.8 78.7L91.7 81.7L94.5 87.4L90.3 93.8L87.6 96.3L83.4 100.2L88.9 95.8L93.8 97.8L97.2 96.8L101.4 100.2L106.9 99.2L111.1 97.8L112.5 96.8L115.9 101.1L115.9 109.1L120.8 107.0L124.9 107.0L127.7 107.0L130.4 103.0L131.8 101.1L138.7 103.4L144.3 104.8L147.7 109.6L154.0 109.1L158.1 113.3L160.9 114.9L166.4 115.3L169.2 113.3L172.6 113.3L171.9 116.5L176.1 114.1L180.2 114.5L184.4 117.6L187.1 119.1L189.9 122.1L194.1 124.6L197.5 126.4L200.0 128.1L198.9 130.1L196.1 133.4L194.1 133.4L191.3 130.4L187.8 128.4L187.1 130.8L185.1 132.1L182.3 132.4L184.4 137.7L184.8 139.8L178.8 141.6L174.7 144.2L172.3 146.4L169.2 145.1L165.0 146.4L163.6 149.2L162.2 151.8L160.9 153.1L162.2 156.4L160.9 159.3L158.1 161.7L158.1 164.0L155.7 166.3L153.7 168.5L152.6 165.2L152.0 161.7L152.3 156.9L154.0 152.3L156.7 150.5L160.2 146.4L162.9 142.2L163.6 139.3L160.9 140.7L158.1 142.8L158.1 145.1L154.0 141.6L151.2 147.8L148.4 148.6L145.7 147.8L142.9 147.3L137.4 148.1L133.9 149.2L130.4 152.3L127.7 155.7L123.8 160.1L126.3 161.7L127.7 162.2L130.4 161.7L132.2 163.6L131.8 166.3L131.1 169.6L130.9 173.9L129.1 177.0L126.3 180.0L124.2 182.9L120.8 184.8L119.2 184.6L117.6 186.1L116.3 187.6L115.9 188.9L113.3 190.7L113.2 191.8L114.4 193.0L115.8 195.6L115.9 197.7L115.2 198.9L113.2 199.6L111.6 199.9L111.6 198.2L111.9 195.6L111.2 194.3L109.7 193.9L110.0 192.1L108.9 190.3L106.2 191.2L104.6 192.5L105.3 190.0L105.3 188.7L102.8 190.3L101.4 191.6L99.6 192.1L100.7 193.9L101.4 195.1L103.7 194.3L106.2 195.0L104.2 196.3L103.2 197.4L101.8 199.1L103.2 200.7L104.2 203.2L105.4 204.9L105.3 206.0L103.9 206.8L105.5 207.6L105.1 209.7L103.7 211.2L102.5 213.5L101.4 214.8L100.2 215.8L98.6 217.3L97.2 218.3L94.9 219.0L93.8 219.3L91.7 220.0L89.6 220.6L89.4 222.1L88.7 220.3L86.9 220.0L85.5 220.6L84.4 221.8L83.1 224.0L84.1 225.8L85.9 227.9L87.4 229.4L88.0 232.0L88.0 234.1L87.3 235.2L85.2 236.2L84.5 236.5L84.1 237.6L82.3 238.7L81.9 237.2L81.3 236.3L80.1 236.1L79.3 234.8L78.3 233.8L76.5 233.1L76.4 232.1L75.1 232.2L75.1 234.1L74.4 235.5L74.0 237.6L75.1 238.3L75.5 239.7L76.4 241.1L77.5 241.5L78.6 242.5L79.7 243.9L80.0 245.3L79.8 246.9L80.9 248.9L80.0 249.0L78.6 248.0L77.1 246.9L75.9 245.3L75.7 243.2L75.1 241.8L74.2 240.4L72.9 239.7L72.9 237.6L73.3 235.5L73.2 233.4L72.6 231.2L71.9 229.1L71.8 227.7L70.7 227.1L68.9 228.7L67.2 228.4L67.5 226.2L66.8 224.0L65.4 222.6L64.5 221.4L63.8 219.1L62.0 218.9L59.9 219.9L58.5 220.0L57.1 220.6L56.9 221.8L55.8 222.7L54.4 223.4L53.0 225.0L50.6 227.2L49.1 228.4L47.7 229.4L47.6 232.0L47.2 234.4L47.2 236.5L46.1 237.9L45.0 238.4L44.0 239.6L42.6 238.3L42.2 236.9L41.2 234.5L40.3 232.7L39.4 230.1L38.9 229.1L38.1 226.9L37.5 224.0L37.4 221.8L37.2 220.3L37.1 219.3L36.5 221.1L34.7 221.5L32.5 219.9L32.1 219.1L33.9 218.3L32.0 217.8L31.1 217.0L30.2 216.6L29.5 215.4L28.8 214.5L26.0 214.8L22.6 214.9L19.8 214.6L17.0 214.2L15.9 212.8L15.0 211.8L12.2 212.6L10.1 212.0L8.0 210.6L7.1 208.9L6.0 207.0L4.6 206.6L3.9 207.3L3.2 208.1L3.9 209.7L4.9 211.2L6.2 212.8L7.1 214.3L7.1 215.4L7.8 213.4L8.2 215.1L8.2 216.1L10.1 216.4L12.2 216.1L13.3 214.6L14.4 213.5L14.8 213.1L14.8 215.1L15.1 216.1L17.0 217.0L19.5 218.9L18.0 221.8L16.8 224.0L16.3 225.5L13.6 226.2L11.5 226.9L9.0 228.4L6.0 229.8L3.9 231.2L1.1 232.1L-0.9 232.9L-3.0 233.1L-3.4 232.0L-3.8 229.8L-4.3 227.7L-5.4 225.5L-6.8 223.3L-8.4 221.1L-9.9 218.1L-11.3 216.1L-12.3 213.5L-14.1 211.2L-15.1 210.4L-14.8 208.1L-15.7 210.4L-17.3 209.7L-18.1 207.4L-18.5 205.3L-16.4 205.5L-15.7 205.2L-15.1 204.0L-14.8 202.4L-13.9 200.7L-13.5 199.1L-13.4 197.4L-13.1 196.3L-14.8 196.3L-16.2 197.0L-18.2 197.2L-20.3 196.0L-21.7 196.9L-23.1 196.3L-24.5 196.2L-25.4 195.6L-25.6 193.9L-26.5 193.0L-26.1 191.6L-26.9 191.2L-26.9 190.3L-27.2 189.3L-27.9 188.7L-30.0 189.1L-30.3 190.3L-31.5 189.4L-31.8 191.2L-30.7 193.0L-30.0 193.9L-31.1 193.9L-31.1 195.1L-31.6 196.5L-33.2 196.0L-33.7 194.3L-34.0 193.4L-34.6 192.1L-35.5 190.9L-36.3 189.4L-36.2 187.1L-37.6 185.7L-39.7 184.8L-41.7 182.9L-43.1 180.6L-44.4 181.0L-44.2 179.6L-46.0 180.2L-46.2 182.3L-44.5 183.7L-43.5 185.7L-41.1 186.9L-39.7 188.5L-37.6 190.2L-39.7 189.6L-40.2 190.9L-39.5 192.1L-40.4 193.4L-41.5 194.1L-41.3 192.7L-41.1 191.2L-42.0 190.2L-43.1 189.3L-45.2 188.0L-46.3 187.1L-48.0 185.9L-48.7 184.8L-49.1 183.1L-50.7 182.1L-52.8 183.3L-54.9 184.6L-56.3 184.0L-57.6 183.9L-58.8 184.8L-58.8 186.1L-60.1 187.8L-62.1 189.1L-63.6 191.2L-63.0 192.5L-64.0 193.9L-64.3 194.6L-65.9 196.0L-69.3 196.2ZM183.7 109.1L185.8 110.0L189.2 108.7L187.8 107.0L185.1 107.0Z" fill="#5470dc"/>
<g clip-path="url(#land)">
<path d="M257.7 172.8L264.2 172.8L303.0 172.8L303.7 172.0L306.1 173.7L310.2 174.7L312.3 174.3L317.4 177.4L319.2 179.0L320.6 180.4L321.0 183.9L320.2 186.3L322.7 186.3L325.4 185.0L325.4 184.0L328.5 183.5L329.3 182.5L331.3 181.0L335.8 181.0L336.8 180.2L337.6 178.2L339.0 176.0L340.4 176.2L340.9 177.0L340.9 179.4L341.5 180.6L342.2 181.4L343.4 184.8L332.4 199.1L325.4 216.1L321.3 216.1L318.5 210.4L301.9 213.8L300.3 213.7L297.8 212.9L297.1 211.2L295.0 207.9L293.1 207.6L292.3 208.9L290.2 207.9L287.4 204.4L285.1 204.4L285.1 205.2L281.2 205.2L276.1 202.9L272.8 203.2L270.1 204.0L257.7 190.3Z" fill="#4a8ce4" stroke="#fff" stroke-opacity="0.4" stroke-width="0.5"/>
<path d="M239.7 100.2L201.0 100.2L201.0 140.7L185.8 151.8L185.8 170.7L227.2 166.3L248.0 161.7L254.9 160.1L254.9 156.6L250.1 150.5L247.3 147.0L244.5 149.4L242.5 146.4L239.7 145.6Z" fill="#4a8ce4" stroke="#fff" stroke-opacity="0.4" stroke-width="0.5"/>
<path d="M272.8 203.2L276.1 202.9L281.2 205.2L285.1 205.2L285.1 204.4L287.4 204.4L290.2 207.9L292.3 208.9L293.1 207.6L295.0 207.9L297.1 211.2L297.8 212.9L300.3 213.7L304.7 215.1L315.8 218.9L315.1 224.8L312.6 224.8L311.5 225.5L311.3 225.8L308.8 225.8L308.8 226.6L309.7 228.2L308.2 228.4L307.2 230.5L303.3 232.7L282.6 225.5L268.7 207.3Z" fill="#5a58d7" stroke="#fff" stroke-opacity="0.4" stroke-width="0.5"/>
<path d="M307.2 230.5L308.2 228.4L309.7 228.2L308.8 226.6L308.8 225.8L311.3 225.8L311.3 228.5L312.7 228.8L311.2 230.7L310.1 231.7L306.8 232.0Z" fill="#785ac3" stroke="#fff" stroke-opacity="0.4" stroke-width="0.5"/>
<path d="M311.3 225.8L311.5 225.5L312.6 224.8L313.7 224.8L313.7 228.5L311.3 228.5Z" fill="#c0c0e0" stroke="#fff" stroke-opacity="0.4" stroke-width="0.5"/>
<path d="M311.2 230.7L312.7 228.8L313.0 227.7L319.9 227.7L319.8 229.8L317.6 230.2L316.2 231.4L314.8 231.5L314.0 232.7L313.3 232.1L312.3 231.4Z" fill="#9e5caa" stroke="#fff" stroke-opacity="0.4" stroke-width="0.5"/>
<path d="M310.1 231.7L311.2 230.7L312.3 231.4L313.3 232.1L313.3 232.8L310.0 232.7Z" fill="#7a7ad0" stroke="#fff" stroke-opacity="0.4" stroke-width="0.5"/>
<path d="M314.0 232.7L314.8 231.5L316.2 231.4L317.6 230.2L319.8 229.8L320.6 229.8L319.9 235.6L318.9 235.6L317.6 235.4L316.2 235.4L315.8 235.5L313.0 233.4Z" fill="#c480b0" stroke="#fff" stroke-opacity="0.4" stroke-width="0.5"/>
<path d="M316.2 235.4L317.6 235.4L318.9 235.6L319.9 235.6L320.6 237.6L320.0 237.6L320.0 239.7L318.5 240.0L315.1 237.6L315.5 235.2Z" fill="#48a4f0" stroke="#fff" stroke-opacity="0.4" stroke-width="0.5"/>
<path d="M320.0 237.6L320.6 237.6L321.3 236.9L328.2 236.9L327.7 238.9L327.0 240.8L326.8 241.8L322.7 241.8L320.0 239.7Z" fill="#5470dc" stroke="#fff" stroke-opacity="0.4" stroke-width="0.5"/>
<path d="M335.5 222.3L340.7 222.6L340.7 226.2L335.5 226.2L335.4 224.5Z" fill="#70b2ec" stroke="#fff" stroke-opacity="0.4" stroke-width="0.5"/>
<path d="M327.7 238.9L329.6 236.9L331.7 234.1L335.8 232.7L336.1 234.4L334.4 235.5L333.7 237.6L334.6 239.3L335.1 240.8L337.2 241.1L338.6 242.3L341.3 242.2L340.9 244.6L341.8 247.3L342.2 249.1L338.2 248.4L338.6 250.0L337.9 251.1L338.6 252.5L338.0 256.6L337.2 256.1L334.4 254.1L333.0 252.9L330.6 250.9L328.9 250.4L327.5 250.0L325.7 248.9L324.1 248.0L325.4 242.5L327.0 240.8Z" fill="#4a8ce4" stroke="#fff" stroke-opacity="0.4" stroke-width="0.5"/>
<path d="M336.1 234.4L335.8 232.7L351.7 234.1L353.8 239.0L351.7 239.0L349.9 241.1L350.1 242.5L350.8 243.6L348.3 245.3L346.2 245.3L345.5 247.3L346.9 247.8L344.1 249.7L342.2 249.1L341.8 247.3L340.9 244.6L341.3 242.2L338.6 242.3L337.2 241.1L335.1 240.8L334.6 239.3L333.7 237.6L334.4 235.5Z" fill="#70b2ec" stroke="#fff" stroke-opacity="0.4" stroke-width="0.5"/>
<path d="M335.1 235.8L336.2 235.6L336.6 237.2L336.0 238.3L335.0 237.5Z" fill="#eef6fd" stroke="#fff" stroke-opacity="0.4" stroke-width="0.5"/>
<path d="M351.7 239.0L353.8 239.0L355.9 241.8L355.6 242.6L355.5 243.9L354.5 245.3L355.9 248.0L356.6 248.2L353.8 249.0L352.0 248.9L351.7 246.6L352.0 244.6L350.8 243.6L350.1 242.5L349.9 241.1Z" fill="#e882a0" stroke="#fff" stroke-opacity="0.4" stroke-width="0.5"/>
<path d="M355.6 242.6L355.9 241.8L357.9 241.8L360.0 242.6L359.5 244.6L359.3 247.6L357.3 248.0L355.9 248.0L354.5 245.3L355.5 243.9Z" fill="#9c7cc0" stroke="#fff" stroke-opacity="0.4" stroke-width="0.5"/>
<path d="M360.0 242.6L362.8 242.8L363.3 245.0L362.1 247.3L359.3 247.6L359.5 244.6Z" fill="#70b2ec" stroke="#fff" stroke-opacity="0.4" stroke-width="0.5"/>
<path d="M325.7 248.9L327.5 250.0L328.9 250.4L330.6 250.9L330.3 252.9L328.2 254.7L326.4 255.5L325.9 257.2L324.8 257.7L323.5 256.8L323.6 255.5L321.3 255.0L321.3 249.4L324.1 248.0Z" fill="#9e5caa" stroke="#fff" stroke-opacity="0.4" stroke-width="0.5"/>
<path d="M323.6 255.5L323.5 256.8L324.8 257.7L325.9 257.2L326.4 255.5L328.2 254.7L330.3 252.9L330.6 250.9L333.0 252.9L334.4 254.1L337.2 256.1L338.0 256.6L334.0 257.7L332.6 260.5L333.7 263.6L334.8 264.7L337.1 264.0L337.1 266.1L338.6 266.1L339.7 268.2L339.3 271.1L338.6 272.5L339.3 273.9L338.6 275.4L337.5 276.7L335.1 277.6L318.5 261.9L319.9 255.0Z" fill="#5a58d7" stroke="#fff" stroke-opacity="0.4" stroke-width="0.5"/>
<path d="M338.6 266.1L340.0 266.1L344.4 264.4L344.4 266.8L349.0 269.4L351.0 270.1L351.4 273.5L354.1 273.7L354.2 275.4L355.2 276.1L354.5 278.7L352.8 278.0L349.2 278.5L348.1 282.3L345.8 283.2L344.8 282.2L343.0 281.7L341.8 283.2L340.7 281.3L340.0 278.3L338.6 275.4L339.3 273.9L338.6 272.5L339.3 271.1L339.7 268.2Z" fill="#8664c4" stroke="#fff" stroke-opacity="0.4" stroke-width="0.5"/>
<path d="M348.1 282.3L349.2 278.5L352.8 278.0L354.5 278.7L354.8 282.2L357.5 282.5L357.9 285.0L359.6 285.2L359.2 287.4L358.9 289.1L357.3 290.1L353.7 289.9L355.0 287.1L351.7 285.0Z" fill="#8664c4" stroke="#fff" stroke-opacity="0.4" stroke-width="0.5"/>
<path d="M341.8 283.2L343.0 281.7L344.8 282.2L345.8 283.2L348.1 282.3L351.7 285.0L355.0 287.1L353.7 289.9L357.3 290.1L358.9 289.1L359.2 287.4L360.3 288.8L360.3 289.9L357.5 291.6L355.0 294.6L354.2 298.4L353.9 300.9L357.3 305.1L348.3 320.6L346.2 344.7L342.7 343.0L339.8 342.0L340.1 336.2L337.9 335.3L334.7 333.1L333.7 329.8L335.1 325.6L335.8 321.6L335.5 317.7L335.4 313.1L336.2 308.6L337.2 304.2L337.9 300.0L337.6 295.9L338.2 292.7L340.0 289.6L340.2 285.8L342.0 285.0Z" fill="#4f78e0" stroke="#fff" stroke-opacity="0.4" stroke-width="0.5"/>
<path d="M353.9 300.9L354.2 298.4L355.0 294.6L357.3 295.6L360.0 297.4L361.1 298.7L360.8 300.4L361.4 303.4L354.5 302.5Z" fill="#96bae4" stroke="#fff" stroke-opacity="0.4" stroke-width="0.5"/>
<path d="M337.5 276.7L338.6 275.4L340.0 278.3L340.7 281.3L341.8 283.2L342.0 285.0L340.2 285.8L340.0 289.6L338.2 292.7L337.6 295.9L337.9 300.0L337.2 304.2L336.2 308.6L335.4 313.1L335.5 317.7L335.8 321.6L335.1 325.6L333.7 329.8L334.7 333.1L337.9 335.3L340.1 336.2L339.8 342.0L342.7 343.0L342.0 347.2L326.8 342.3L326.8 311.3L332.4 276.1Z" fill="#4a8ce4" stroke="#fff" stroke-opacity="0.4" stroke-width="0.5"/>
<path d="M426.5 197.7L431.7 198.9L432.2 199.4L432.3 201.6L433.0 203.2L430.6 204.9L429.6 206.0L427.8 207.3L425.7 207.9L422.7 209.3L422.7 210.9L416.4 210.9L415.3 209.7L419.5 207.3L420.2 202.4L425.0 198.2L426.4 197.0Z" fill="#4a8ce4" stroke="#fff" stroke-opacity="0.4" stroke-width="0.5"/>
<path d="M422.7 210.9L422.7 213.5L418.1 213.5L418.1 217.3L416.7 218.1L416.7 220.6L411.2 220.6L409.8 221.1L411.2 216.6L414.0 212.8L416.4 210.9Z" fill="#fbfbfb" stroke="#fff" stroke-opacity="0.4" stroke-width="0.5"/>
<path d="M431.7 198.9L431.9 197.4L446.6 193.9L446.6 195.8L446.0 196.5L446.2 199.1L445.1 200.7L445.1 202.1L447.1 203.7L447.8 207.0L448.4 208.9L448.4 212.8L447.7 213.2L448.5 215.4L451.3 217.3L443.0 223.7L439.3 224.0L439.0 223.0L437.2 222.1L428.1 215.1L422.7 211.5L422.7 209.3L425.7 207.9L427.8 207.3L429.6 206.0L430.6 204.9L433.0 203.2L432.3 201.6L432.2 199.4Z" fill="#7a7ad0" stroke="#fff" stroke-opacity="0.4" stroke-width="0.5"/>
<path d="M446.6 195.8L446.6 193.9L450.6 194.8L450.6 202.1L450.6 203.2L448.9 204.5L448.8 206.8L447.8 207.0L447.1 203.7L445.1 202.1L445.1 200.7L446.2 199.1L446.0 196.5Z" fill="#5470dc" stroke="#fff" stroke-opacity="0.4" stroke-width="0.5"/>
<path d="M450.6 202.1L451.3 200.7L469.3 201.6L469.3 204.9L468.9 207.3L469.3 208.5L469.3 219.6L469.3 222.6L467.9 222.6L467.9 223.3L456.8 217.5L455.4 218.1L454.3 218.7L451.3 217.3L448.5 215.4L447.7 213.2L448.4 212.8L448.4 208.9L447.8 207.0L448.8 206.8L448.9 204.5L450.6 203.2Z" fill="#7496de" stroke="#fff" stroke-opacity="0.4" stroke-width="0.5"/>
<path d="M469.3 204.9L469.3 202.4L482.1 204.9L483.0 208.1L482.4 210.4L486.6 219.6L469.3 219.6L469.3 208.5L468.9 207.3Z" fill="#785ac3" stroke="#fff" stroke-opacity="0.4" stroke-width="0.5"/>
<path d="M411.2 220.6L416.6 220.6L416.7 218.1L418.1 217.4L418.1 213.5L422.7 213.5L422.7 211.5L428.1 215.1L426.1 221.1L427.1 227.7L427.4 229.1L421.8 229.1L419.8 229.4L418.1 230.1L416.3 228.4L414.6 227.5L411.9 228.4L409.8 228.4L409.8 221.1Z" fill="#9c7cc0" stroke="#fff" stroke-opacity="0.4" stroke-width="0.5"/>
<path d="M428.1 215.1L437.2 222.1L439.0 223.0L439.3 224.0L440.5 223.9L440.5 227.2L439.5 229.2L436.5 229.4L435.0 230.0L433.7 229.7L431.9 231.0L430.6 231.8L429.2 232.4L428.5 233.7L427.4 234.4L427.1 236.3L425.7 236.2L423.6 236.6L423.2 235.5L422.3 233.7L420.5 233.8L418.9 233.8L418.8 232.7L417.8 230.5L418.1 230.1L419.8 229.4L421.8 229.1L427.4 229.1L427.1 227.7L426.1 221.1Z" fill="#c46096" stroke="#fff" stroke-opacity="0.4" stroke-width="0.5"/>
<path d="M440.5 223.9L443.0 223.7L451.3 217.3L454.3 218.7L455.4 218.1L456.7 222.1L456.1 227.1L453.4 230.5L453.4 231.8L452.0 232.5L449.2 232.2L447.1 232.9L445.1 232.5L443.7 232.0L441.6 231.7L440.2 232.0L439.7 234.5L438.6 233.7L437.9 233.7L436.1 232.7L435.3 231.2L435.0 230.0L436.5 229.4L439.5 229.2L440.5 227.2Z" fill="#c46096" stroke="#fff" stroke-opacity="0.4" stroke-width="0.5"/>
<path d="M455.4 218.1L456.8 217.5L467.9 223.3L467.9 228.8L466.4 229.0L465.5 231.2L465.4 233.1L465.8 235.5L464.7 236.1L463.1 237.9L461.0 238.3L459.6 239.8L457.5 240.1L456.1 240.4L455.7 239.0L454.1 236.9L455.4 236.9L455.4 234.8L454.8 232.9L453.4 231.8L453.4 230.5L456.1 227.1L456.7 222.1Z" fill="#c46096" stroke="#fff" stroke-opacity="0.4" stroke-width="0.5"/>
<path d="M469.3 219.6L486.6 219.6L488.4 222.6L488.4 225.5L487.9 225.5L485.9 226.8L485.2 229.5L485.0 230.7L484.6 233.1L483.1 234.5L482.1 236.1L480.6 233.8L479.1 234.1L479.1 235.5L476.2 236.9L474.8 237.6L472.0 237.5L469.3 236.5L467.9 238.7L467.2 238.3L466.5 235.9L465.8 235.5L465.4 233.1L465.5 231.2L466.4 229.0L467.9 228.8L467.9 223.3L467.9 222.6L469.3 222.6Z" fill="#9e5caa" stroke="#fff" stroke-opacity="0.4" stroke-width="0.5"/>
<path d="M482.1 236.1L480.6 233.8L479.1 234.1L479.1 235.5L476.2 236.9L474.8 237.6L472.0 237.5L469.3 236.5L467.9 238.7L469.6 240.0L471.2 241.8L472.6 243.6L474.0 244.8L475.5 244.6L477.3 245.8L478.8 245.7L481.0 245.5L481.7 245.0L484.3 244.4L483.5 243.3L481.7 241.8L480.3 239.7L481.7 238.9Z" fill="#9e5caa" stroke="#fff" stroke-opacity="0.4" stroke-width="0.5"/>
<path d="M484.6 233.1L485.0 230.7L487.1 230.0L488.6 230.4L491.1 231.0L493.3 233.4L492.5 235.5L494.0 235.6L495.6 238.3L499.7 239.7L501.1 239.7L496.9 243.9L494.9 244.2L492.8 245.0L491.4 245.3L489.3 246.1L487.3 245.8L485.7 244.7L484.3 244.4L483.5 243.3L481.7 241.8L480.3 239.7L481.7 238.9L482.1 236.1L483.1 234.5Z" fill="#5f88e0" stroke="#fff" stroke-opacity="0.4" stroke-width="0.5"/>
<path d="M485.0 230.7L485.2 229.5L485.9 226.8L487.9 225.5L490.0 226.9L494.9 233.4L493.3 233.4L491.1 231.0L488.6 230.4L487.1 230.0Z" fill="#d4e6f6" stroke="#fff" stroke-opacity="0.4" stroke-width="0.5"/>
<path d="M493.3 233.4L494.9 233.1L494.9 235.1L494.0 235.6L492.5 235.5Z" fill="#7496de" stroke="#fff" stroke-opacity="0.4" stroke-width="0.5"/>
<path d="M494.9 235.1L495.6 233.4L506.6 232.7L506.6 238.3L496.9 255.0L492.1 254.3L492.1 253.3L491.4 252.0L491.4 245.3L492.8 245.0L494.9 244.2L496.9 243.9L501.1 239.7L499.7 239.7L495.6 238.3L494.0 235.6Z" fill="#c46096" stroke="#fff" stroke-opacity="0.4" stroke-width="0.5"/>
<path d="M491.4 245.3L491.4 252.0L492.1 253.3L491.4 257.7L488.9 257.3L486.8 255.1L481.7 252.2L481.6 250.7L482.4 249.3L483.1 248.2L481.7 245.0L484.3 244.4L485.7 244.7L487.3 245.8L489.3 246.1Z" fill="#7a7ad0" stroke="#fff" stroke-opacity="0.4" stroke-width="0.5"/>
<path d="M477.3 245.8L478.8 245.7L481.0 245.5L481.7 245.0L483.1 248.2L482.4 249.3L481.6 250.7L481.7 252.2L476.9 252.2L475.6 252.7L475.6 251.5L476.2 249.7L477.6 248.0L477.3 247.5Z" fill="#9e5caa" stroke="#fff" stroke-opacity="0.4" stroke-width="0.5"/>
<path d="M481.7 252.2L486.8 255.1L488.9 257.3L491.4 257.7L491.4 265.4L490.6 265.4L487.3 266.5L485.2 267.1L483.1 267.0L482.4 266.1L481.7 264.0L480.2 263.9L477.6 262.7L477.2 262.2L475.5 259.8L475.2 257.0L476.6 256.8L477.3 255.4L476.9 254.1L476.9 252.2Z" fill="#e46282" stroke="#fff" stroke-opacity="0.4" stroke-width="0.5"/>
<path d="M474.8 252.7L475.6 252.7L476.9 252.2L476.9 254.1L477.3 255.4L476.6 256.9L475.2 257.0L474.8 254.7Z" fill="#9c7cc0" stroke="#fff" stroke-opacity="0.4" stroke-width="0.5"/>
<path d="M438.4 241.9L438.6 238.3L440.0 236.2L439.7 234.5L440.2 232.0L441.6 231.7L443.7 232.0L445.1 232.5L447.1 232.9L449.2 232.2L452.0 232.5L453.4 231.8L454.3 233.5L454.9 234.8L453.8 235.5L453.0 237.5L452.4 238.7L451.0 241.1L449.4 241.1L448.3 241.8L446.9 243.9L446.5 244.6L443.0 246.6L438.4 243.9Z" fill="#70b2ec" stroke="#fff" stroke-opacity="0.4" stroke-width="0.5"/>
<path d="M446.5 244.6L446.9 243.9L448.3 241.8L449.4 241.1L451.0 241.1L452.4 238.7L453.0 237.5L453.8 235.5L454.9 234.8L454.3 233.5L454.8 232.9L455.4 234.8L455.4 236.9L454.1 236.9L455.7 239.0L456.1 240.4L454.8 242.5L454.8 243.9L455.4 245.3L457.0 246.9L456.8 248.4L453.0 247.8L450.3 247.8L448.3 247.6L446.5 246.6Z" fill="#9c7cc0" stroke="#fff" stroke-opacity="0.4" stroke-width="0.5"/>
<path d="M456.1 240.4L457.5 240.1L459.6 239.8L461.0 238.3L463.1 237.9L464.7 236.1L465.8 235.5L466.5 235.9L467.2 238.3L467.9 238.7L469.6 240.0L471.2 241.8L472.6 243.6L469.7 243.9L468.6 243.7L465.7 245.1L461.7 243.7L460.4 244.8L460.4 246.0L457.5 246.6L457.0 246.9L455.4 245.3L454.8 243.9L454.8 242.5Z" fill="#c0c0e0" stroke="#fff" stroke-opacity="0.4" stroke-width="0.5"/>
<path d="M450.2 256.3L450.7 254.3L452.0 254.0L453.9 254.1L454.6 251.5L454.5 249.0L453.1 249.0L453.0 247.8L456.8 248.4L457.0 246.9L457.5 246.6L460.4 246.0L459.6 248.7L459.2 251.5L457.1 253.8L456.6 256.3L454.6 257.6L452.7 257.2L451.6 257.7L451.3 257.7L449.2 257.0Z" fill="#c0c0e0" stroke="#fff" stroke-opacity="0.4" stroke-width="0.5"/>
<path d="M448.0 249.4L450.3 249.4L450.3 247.8L453.0 247.8L453.1 249.0L454.5 249.0L454.6 251.5L453.9 254.1L452.0 254.0L450.7 254.3L450.2 256.3L445.8 254.3L445.8 249.4Z" fill="#c0c0e0" stroke="#fff" stroke-opacity="0.4" stroke-width="0.5"/>
<path d="M448.0 249.4L450.3 249.4L450.3 247.8L448.3 247.6L447.1 247.6L447.1 249.4Z" fill="#9896d2" stroke="#fff" stroke-opacity="0.4" stroke-width="0.5"/>
<path d="M451.6 259.0L452.7 257.2L454.6 257.6L456.6 256.3L457.1 253.8L459.2 251.5L459.6 248.7L460.4 246.0L460.4 244.8L461.7 243.7L465.7 245.1L468.6 243.7L469.7 243.9L472.6 243.6L474.0 244.8L475.5 244.6L477.3 245.8L477.3 247.5L477.6 248.0L476.2 249.7L475.6 251.5L475.6 252.7L474.8 252.7L474.8 254.7L475.2 257.0L475.5 259.8L477.2 262.2L474.7 262.6L474.0 263.7L474.3 265.4L474.0 267.4L475.9 267.8L475.9 269.5L474.8 269.5L474.0 268.2L472.3 267.0L470.7 267.4L469.7 266.4L468.4 266.5L467.9 266.0L465.4 266.4L465.5 264.7L464.8 260.9L463.1 260.5L461.7 260.5L461.0 261.9L459.0 262.0L457.7 260.5L457.7 259.0L452.7 259.0Z" fill="#9c7cc0" stroke="#fff" stroke-opacity="0.4" stroke-width="0.5"/>
<path d="M451.6 259.0L452.7 259.0L457.7 259.0L457.7 260.5L459.0 262.0L461.0 261.9L461.7 260.5L463.1 260.5L464.8 260.9L465.5 264.7L465.4 266.4L467.9 266.0L467.9 268.9L465.1 268.9L465.1 273.5L467.1 275.5L464.3 276.1L460.1 275.2L454.1 275.2L451.0 275.1L448.5 275.1L448.5 259.0Z" fill="#9c7cc0" stroke="#fff" stroke-opacity="0.4" stroke-width="0.5"/>
<path d="M465.1 268.9L467.9 268.9L467.9 266.0L468.4 266.5L469.7 266.4L470.7 267.4L472.3 267.0L474.0 268.2L474.8 269.5L475.9 269.5L475.9 267.8L474.0 267.4L474.3 265.4L474.0 263.7L474.7 262.6L477.2 262.2L477.6 262.7L480.2 263.9L480.6 264.7L480.8 265.8L480.3 267.5L480.2 269.6L480.2 270.4L476.5 271.5L476.7 272.6L474.7 273.1L472.0 276.0L469.7 275.8L467.1 275.5L465.1 273.5Z" fill="#7496de" stroke="#fff" stroke-opacity="0.4" stroke-width="0.5"/>
<path d="M480.2 263.9L481.7 264.0L482.4 266.1L483.1 267.0L482.6 268.2L484.2 271.1L484.2 273.2L483.5 274.8L482.1 273.2L482.4 271.1L480.6 270.4L480.2 269.6L480.3 267.5L480.8 265.8L480.6 264.7Z" fill="#c480b0" stroke="#fff" stroke-opacity="0.4" stroke-width="0.5"/>
<path d="M490.6 265.4L492.8 266.1L491.4 274.7L484.5 286.5L480.3 289.9L480.1 289.4L479.1 289.3L478.8 287.9L479.0 285.8L478.0 282.6L479.5 281.0L480.3 278.7L480.1 276.8L480.3 274.7L479.0 273.8L477.6 273.2L476.7 272.6L476.5 271.5L480.6 270.4L482.4 271.1L482.1 273.2L483.5 274.8L484.2 273.2L484.2 271.1L482.6 268.2L483.1 267.0L485.2 267.1L487.3 266.5Z" fill="#96bae4" stroke="#fff" stroke-opacity="0.4" stroke-width="0.5"/>
<path d="M469.7 275.8L472.0 276.0L474.7 273.1L476.7 272.6L477.6 273.2L479.0 273.8L480.3 274.7L480.1 276.8L480.3 278.7L479.5 281.0L478.0 282.6L475.4 282.3L473.4 281.4L473.0 279.8L470.9 278.3L469.7 276.8Z" fill="#9e5caa" stroke="#fff" stroke-opacity="0.4" stroke-width="0.5"/>
<path d="M469.7 275.8L469.7 276.8L470.9 278.3L473.0 279.8L473.4 281.4L475.4 282.3L473.4 283.2L471.9 284.6L470.5 286.1L470.0 287.6L466.5 287.0L465.1 289.1L463.3 289.4L462.4 286.2L462.4 282.0L463.7 282.0L463.7 276.6L467.1 276.1L468.6 276.0Z" fill="#9896d2" stroke="#fff" stroke-opacity="0.4" stroke-width="0.5"/>
<path d="M451.0 275.1L454.1 275.2L460.1 275.2L464.3 276.1L467.1 275.5L469.7 275.8L468.6 276.0L467.1 276.1L463.7 276.6L463.7 282.0L462.4 282.0L462.4 286.2L462.4 291.8L459.9 292.6L458.8 292.3L457.5 292.1L454.1 292.7L448.5 282.0L448.5 275.1Z" fill="#9e5caa" stroke="#fff" stroke-opacity="0.4" stroke-width="0.5"/>
<path d="M457.5 292.1L458.8 292.3L459.9 292.6L462.4 291.8L462.4 286.2L463.3 289.4L465.1 289.1L466.5 287.0L470.0 287.6L470.5 286.1L471.9 284.6L473.4 283.2L475.4 282.3L478.0 282.6L479.0 285.8L478.8 287.9L479.1 289.3L480.1 289.4L481.7 291.2L476.2 304.2L459.6 304.2L455.4 294.3Z" fill="#5a58d7" stroke="#fff" stroke-opacity="0.4" stroke-width="0.5"/>
<path d="M472.2 293.7L473.4 292.3L474.7 292.4L475.4 293.5L474.9 294.3L473.7 295.3L472.5 294.8Z" fill="#c46096" stroke="#fff" stroke-opacity="0.4" stroke-width="0.5"/>
<path d="M477.6 287.8L479.0 288.1L479.1 289.3L478.0 290.1L477.3 289.1Z" fill="#9e5caa" stroke="#fff" stroke-opacity="0.4" stroke-width="0.5"/>
<path d="M411.9 228.4L414.6 227.5L416.3 228.4L417.8 230.1L417.8 230.5L418.8 232.7L418.9 233.5L415.8 233.2L414.0 233.2L411.6 233.5L409.8 233.5L409.8 228.4Z" fill="#9c7cc0" stroke="#fff" stroke-opacity="0.4" stroke-width="0.5"/>
<path d="M411.5 231.8L414.0 231.5L415.6 232.0L415.6 232.4L414.0 232.4L411.5 232.5Z" fill="#c480b0" stroke="#fff" stroke-opacity="0.4" stroke-width="0.5"/>
<path d="M411.6 233.5L414.0 233.2L415.8 233.2L415.8 234.5L414.4 234.8L414.0 235.6L411.2 235.6L411.2 233.5Z" fill="#c480b0" stroke="#fff" stroke-opacity="0.4" stroke-width="0.5"/>
<path d="M414.0 235.6L414.4 234.8L415.8 234.5L415.8 233.2L418.9 233.5L418.9 233.8L420.5 233.8L422.3 233.7L423.2 235.5L423.6 236.6L423.4 238.3L423.9 239.1L423.2 240.3L422.3 240.7L421.7 240.3L421.7 239.1L420.5 239.0L419.9 238.2L419.2 236.9L417.4 237.0L416.3 238.3L414.0 238.3L412.6 235.6Z" fill="#9c7cc0" stroke="#fff" stroke-opacity="0.4" stroke-width="0.5"/>
<path d="M416.3 238.3L417.4 237.0L419.2 236.9L419.9 238.2L420.5 239.0L420.0 240.0L418.8 241.2L415.3 241.1L415.3 238.3Z" fill="#e46282" stroke="#fff" stroke-opacity="0.4" stroke-width="0.5"/>
<path d="M418.8 241.2L420.0 240.0L420.5 239.0L421.7 239.1L421.7 240.3L422.3 240.7L423.2 240.3L422.9 241.8L424.3 242.8L424.3 244.7L422.3 246.0L418.1 242.5Z" fill="#e46282" stroke="#fff" stroke-opacity="0.4" stroke-width="0.5"/>
<path d="M424.3 244.7L424.3 242.8L422.9 241.8L423.2 240.3L423.9 239.1L423.4 238.3L423.6 236.6L425.7 236.2L427.1 236.3L428.8 237.3L431.0 237.6L431.2 239.4L430.3 241.4L430.8 243.7L430.6 245.3L424.3 246.0Z" fill="#96dcf8" stroke="#fff" stroke-opacity="0.4" stroke-width="0.5"/>
<path d="M430.8 243.7L430.3 241.4L431.2 239.4L431.0 237.6L430.8 235.5L434.4 235.4L435.4 236.3L435.1 237.6L435.5 239.3L435.4 241.1L436.4 242.3L436.1 244.6L430.6 245.3Z" fill="#96dcf8" stroke="#fff" stroke-opacity="0.4" stroke-width="0.5"/>
<path d="M436.4 242.3L435.4 241.1L435.5 239.3L435.1 237.6L435.4 236.3L434.4 235.4L435.9 235.5L436.9 238.3L436.9 242.1L436.8 243.2Z" fill="#9896d2" stroke="#fff" stroke-opacity="0.4" stroke-width="0.5"/>
<path d="M436.9 242.1L436.9 238.3L435.9 235.5L436.6 234.9L437.9 233.7L438.6 233.7L439.7 234.5L440.0 236.2L438.6 238.3L438.4 241.9L438.2 243.2L436.8 243.2Z" fill="#96bae4" stroke="#fff" stroke-opacity="0.4" stroke-width="0.5"/>
<path d="M427.1 236.3L427.4 234.4L428.5 233.7L429.2 232.4L430.6 231.8L431.9 231.0L433.7 229.7L435.0 230.0L435.3 231.2L436.1 232.7L437.9 233.7L436.6 234.9L435.9 235.5L434.4 235.4L430.8 235.5L431.0 237.6L428.8 237.3Z" fill="#c46096" stroke="#fff" stroke-opacity="0.4" stroke-width="0.5"/>
<path d="M482.4 208.2L484.6 208.5L485.6 207.4L486.6 207.3L487.3 206.5L485.9 204.9L488.9 203.9L490.6 204.2L492.8 205.5L496.5 208.5L499.0 208.7L500.4 209.7L501.6 209.7L506.6 212.0L517.7 212.0L517.7 234.1L494.2 234.1L481.7 212.0Z" fill="#7496de" stroke="#fff" stroke-opacity="0.4" stroke-width="0.5"/>
<path d="M496.7 190.9L499.0 192.3L501.6 191.4L502.3 193.2L503.9 195.6L509.2 196.5L509.2 195.1L510.5 195.0L512.1 193.7L513.9 193.4L516.7 194.8L519.3 196.3L519.3 198.1L518.4 199.9L519.1 200.7L518.4 202.4L518.8 204.9L520.2 205.7L518.9 207.6L520.2 209.2L521.6 210.1L522.2 211.7L521.6 212.8L519.9 214.8L516.3 215.1L513.8 214.2L513.3 212.5L510.8 213.1L508.0 212.9L505.2 211.4L503.9 208.1L502.5 207.6L501.8 207.3L501.1 206.5L500.7 205.7L500.7 204.0L498.6 202.4L497.6 200.7L498.6 198.7L497.5 197.4L496.7 195.3L496.0 193.2L495.6 191.4Z" fill="#5470dc" stroke="#fff" stroke-opacity="0.4" stroke-width="0.5"/>
<path d="M493.9 227.8L494.4 226.4L495.8 226.4L498.7 226.6L499.7 227.1L500.4 226.8L502.2 225.0L506.6 224.0L508.1 227.4L508.7 229.8L496.9 234.1L493.5 233.4L492.8 228.4Z" fill="#c46096" stroke="#fff" stroke-opacity="0.4" stroke-width="0.5"/>
<path d="M508.1 227.4L506.6 224.0L510.8 222.6L511.7 219.6L511.0 218.6L511.9 216.6L512.1 215.2L512.7 215.2L518.4 218.1L516.3 224.0L509.4 229.1Z" fill="#4a8ce4" stroke="#fff" stroke-opacity="0.4" stroke-width="0.5"/>
<path d="M506.1 216.6L507.4 218.3L511.0 218.6L511.9 216.6L512.1 215.2L512.7 215.2L512.6 213.8L512.3 213.4L513.0 212.8L510.8 213.4L506.6 215.1Z" fill="#48a4f0" stroke="#fff" stroke-opacity="0.4" stroke-width="0.5"/>
<path d="M505.0 215.5L506.1 215.7L506.6 214.3L505.9 212.8L504.7 213.5Z" fill="#48c4fa" stroke="#fff" stroke-opacity="0.4" stroke-width="0.5"/>
<path d="M499.0 208.7L500.7 207.1L501.1 207.3L501.9 209.7L500.4 209.7Z" fill="#48c4fa" stroke="#fff" stroke-opacity="0.4" stroke-width="0.5"/>
<path d="M488.4 201.7L491.7 199.4L491.8 196.5L493.3 195.5L496.7 195.3L497.5 197.4L498.6 198.7L497.6 200.7L498.6 202.4L500.7 204.0L500.7 205.7L501.1 206.5L501.8 207.3L500.9 207.3L500.7 207.1L499.0 208.7L496.5 208.5L492.8 205.5L490.6 204.2L488.9 203.9Z" fill="#48a4f0" stroke="#fff" stroke-opacity="0.4" stroke-width="0.5"/>
<path d="M483.0 208.2L484.6 208.5L485.6 207.4L486.6 207.3L487.3 206.5L485.9 204.9L488.9 203.9L488.4 201.7L485.6 203.6L484.2 202.9L483.9 202.9L483.8 204.9Z" fill="#48a4f0" stroke="#fff" stroke-opacity="0.4" stroke-width="0.5"/>
<path d="M470.7 186.3L473.4 186.7L476.2 187.2L483.1 186.1L492.1 187.6L494.9 188.3L495.1 190.2L496.7 190.9L495.6 191.4L496.0 193.2L496.7 195.3L493.3 195.5L490.0 196.0L487.3 196.0L485.5 196.2L485.5 196.9L484.8 197.7L483.8 198.2L472.0 197.7L470.0 193.9L470.4 189.8L470.7 189.1L471.2 187.2Z" fill="#48a4f0" stroke="#fff" stroke-opacity="0.4" stroke-width="0.5"/>
<path d="M484.3 197.5L485.5 196.9L485.5 196.2L487.3 196.0L490.0 196.0L493.3 195.5L491.8 196.5L491.7 199.4L488.4 201.7L485.6 203.6L484.2 202.9L484.3 201.7L485.3 200.4L484.5 199.7L483.8 199.6Z" fill="#9e5caa" stroke="#fff" stroke-opacity="0.4" stroke-width="0.5"/>
<path d="M483.2 202.2L484.3 201.7L485.3 200.4L484.5 199.7L483.5 199.7Z" fill="#4a8ce4" stroke="#fff" stroke-opacity="0.4" stroke-width="0.5"/>
<path d="M482.0 205.2L483.0 208.1L483.8 204.9L483.9 202.9L484.2 202.9L484.3 201.7L483.2 202.2L482.1 204.0Z" fill="#48a4f0" stroke="#fff" stroke-opacity="0.4" stroke-width="0.5"/>
<path d="M490.0 183.9L492.1 187.6L494.9 188.3L496.9 188.2L499.0 188.5L498.9 186.9L497.6 185.7L495.3 185.6L493.5 184.4L490.3 183.7Z" fill="#4a8ce4" stroke="#fff" stroke-opacity="0.4" stroke-width="0.5"/>
<path d="M494.9 188.3L495.1 190.2L496.7 190.9L499.0 192.3L499.0 191.2L497.6 189.3L496.9 188.2Z" fill="#5470dc" stroke="#fff" stroke-opacity="0.4" stroke-width="0.5"/>
<path d="M496.9 188.2L497.6 189.3L499.0 191.2L499.0 192.3L501.6 191.4L502.3 193.2L504.5 192.1L504.5 188.5L501.9 187.1L500.8 188.2L498.9 186.9L499.0 188.5Z" fill="#4a8ce4" stroke="#fff" stroke-opacity="0.4" stroke-width="0.5"/>
<path d="M501.8 177.8L499.7 175.1L499.0 173.9L500.4 172.2L499.4 172.2L501.8 170.9L502.2 169.4L505.0 167.0L507.3 167.4L510.1 168.5L511.7 169.4L514.2 168.5L515.7 168.3L517.5 169.0L519.6 169.0L517.8 166.3L519.1 164.0L519.3 162.0L521.8 161.5L524.9 160.8L529.0 159.3L532.6 158.6L533.2 161.2L536.4 161.7L536.2 162.9L540.5 161.2L541.1 160.8L542.4 163.4L545.3 169.0L548.8 169.0L550.0 168.5L552.7 171.6L554.7 171.1L555.4 172.6L553.4 174.1L552.9 176.8L549.5 176.6L548.8 180.6L545.3 181.0L545.9 181.7L546.4 184.4L545.6 186.3L544.2 185.2L539.8 184.8L537.5 184.4L536.4 185.9L532.9 185.6L532.8 186.1L530.1 188.0L529.6 189.1L528.6 188.2L526.7 186.7L526.0 184.8L524.5 183.5L520.4 183.9L519.1 182.1L515.6 179.8L512.1 181.0L512.1 188.0L510.5 186.7L508.0 186.3L507.3 187.1L503.9 187.1L503.9 177.0Z" fill="#4a8ce4" stroke="#fff" stroke-opacity="0.4" stroke-width="0.5"/>
<path d="M512.1 188.0L512.1 181.0L515.6 179.8L519.1 182.1L520.4 183.9L524.5 183.5L526.0 184.8L526.7 186.7L528.6 188.2L529.6 189.1L530.1 188.0L532.8 186.1L533.6 188.0L535.7 188.9L533.9 190.0L532.2 188.7L532.1 189.4L530.5 189.1L529.6 190.0L528.7 191.2L527.9 191.8L528.5 195.3L526.7 195.0L523.8 192.3L520.7 190.3L520.3 188.3L517.8 187.8L517.7 186.3L515.7 185.4L514.1 186.3L513.5 188.0Z" fill="#96dcf8" stroke="#fff" stroke-opacity="0.4" stroke-width="0.5"/>
<path d="M507.3 187.1L508.0 186.3L510.5 186.7L512.1 188.0L513.5 188.0L514.1 186.3L515.7 185.4L517.7 186.3L517.8 187.8L520.3 188.3L520.7 190.3L523.8 192.3L526.7 195.0L525.6 194.8L523.9 196.7L521.8 197.5L519.3 198.1L519.3 196.3L516.7 194.8L513.9 193.4L512.1 193.7L510.5 195.0L509.2 195.1L507.3 193.9L506.6 188.5Z" fill="#ffffff" stroke="#fff" stroke-opacity="0.4" stroke-width="0.5"/>
<path d="M545.6 186.3L545.6 186.7L543.1 188.2L539.8 189.6L536.8 190.7L536.5 191.4L534.0 191.4L530.7 191.2L530.5 190.0L532.2 190.0L533.9 190.0L535.7 188.9L533.6 188.0L532.8 186.1L532.9 185.6L536.4 185.9L537.5 184.4L539.8 184.8L544.2 185.2Z" fill="#4a8ce4" stroke="#fff" stroke-opacity="0.4" stroke-width="0.5"/>
<path d="M527.9 191.8L528.7 191.2L529.6 190.0L530.5 189.1L532.1 189.4L532.2 190.0L530.5 190.0L530.7 191.2L534.0 191.4L536.5 191.4L536.8 192.8L538.3 195.1L536.4 195.0L533.7 196.2L533.4 193.9L532.2 193.2L531.8 194.6L530.8 194.6L528.5 195.3Z" fill="#9896d2" stroke="#fff" stroke-opacity="0.4" stroke-width="0.5"/>
<path d="M518.9 207.6L520.2 205.7L518.8 204.9L518.4 202.4L519.1 200.7L518.4 199.9L519.3 198.1L521.8 197.5L523.9 196.7L525.6 194.8L528.5 195.3L530.8 194.6L531.8 194.6L532.2 193.2L533.4 193.9L533.7 196.2L536.4 195.0L538.3 195.1L537.7 195.6L535.0 196.0L533.3 197.2L533.7 199.2L533.0 200.7L531.4 200.7L531.9 201.9L530.5 204.2L529.0 204.4L526.5 205.8L526.4 207.4L523.5 208.1L521.1 208.2Z" fill="#9e5caa" stroke="#fff" stroke-opacity="0.4" stroke-width="0.5"/>
<path d="M519.9 214.8L521.6 212.8L522.2 211.7L521.6 210.1L520.2 209.2L518.9 207.6L521.1 208.2L523.5 208.1L526.4 207.4L526.5 205.8L529.0 204.4L530.5 204.2L531.9 201.9L531.4 200.7L533.0 200.7L533.7 199.2L533.3 197.2L535.0 196.0L537.7 195.6L539.7 197.4L542.3 198.2L541.2 199.1L537.0 199.6L537.5 202.4L539.0 203.6L537.9 205.5L536.9 207.3L535.7 208.9L534.1 210.6L532.2 210.4L530.8 212.0L531.8 214.0L532.9 216.0L529.9 216.1L529.0 217.0L526.0 217.3L519.8 215.8Z" fill="#5470dc" stroke="#fff" stroke-opacity="0.4" stroke-width="0.5"/>
<path d="M529.0 217.0L529.9 216.1L532.9 216.0L531.8 214.0L530.8 212.0L532.2 210.4L534.1 210.6L535.7 208.9L536.9 207.3L537.9 205.5L539.0 203.6L537.5 202.4L537.0 199.6L541.2 199.1L542.3 198.2L543.8 200.2L544.6 203.1L543.5 205.3L546.7 207.0L545.5 209.2L546.7 210.0L549.9 211.4L552.3 212.5L556.5 212.9L556.5 210.6L557.5 210.4L557.6 211.5L557.8 212.3L561.9 212.3L562.1 210.7L564.7 208.4L567.5 208.2L569.3 210.1L568.9 210.9L566.4 213.5L565.5 215.1L565.0 216.7L563.7 216.6L563.7 219.3L562.8 219.7L560.6 221.1L556.4 224.0L548.1 231.2L546.7 241.1L539.8 241.1L534.3 226.9L530.1 222.6L528.1 218.1Z" fill="#4a8ce4" stroke="#fff" stroke-opacity="0.4" stroke-width="0.5"/>
<path d="M545.5 209.2L546.7 207.0L548.4 207.1L550.9 209.0L553.6 210.4L556.5 210.6L556.5 212.9L552.3 212.5L549.9 211.4L546.7 210.0Z" fill="#4a8ce4" stroke="#fff" stroke-opacity="0.4" stroke-width="0.5"/>
<path d="M557.6 211.5L558.9 210.1L561.5 210.4L562.1 210.7L561.9 212.3L557.8 212.3Z" fill="#96dcf8" stroke="#fff" stroke-opacity="0.4" stroke-width="0.5"/>
<path d="M557.8 220.3L557.5 217.8L556.5 215.8L556.7 213.8L557.0 212.8L558.9 213.5L558.9 214.6L562.5 215.1L560.8 216.6L560.8 217.3L562.4 218.1L562.8 219.7L562.4 221.5L561.2 221.8Z" fill="#4a8ce4" stroke="#fff" stroke-opacity="0.4" stroke-width="0.5"/>
<path d="M538.3 195.1L536.8 193.0L536.8 190.7L539.8 189.6L543.1 188.2L545.6 186.7L545.6 184.8L546.4 184.4L545.9 181.7L545.3 181.0L548.8 180.6L549.5 176.6L552.9 176.8L553.4 174.1L555.4 172.6L556.1 172.4L557.4 174.5L559.2 175.1L560.6 178.0L560.4 180.6L564.0 181.2L566.6 182.3L568.0 185.4L575.5 185.7L579.9 187.4L583.4 185.9L587.4 185.2L589.5 183.5L588.8 182.1L589.6 180.8L592.4 181.2L596.0 178.4L600.4 177.6L597.1 175.5L594.6 175.1L596.1 171.1L597.6 171.8L599.7 170.5L600.8 167.0L601.8 165.0L600.7 164.5L602.0 163.4L605.6 162.9L608.4 164.0L609.0 165.0L611.0 170.3L611.0 171.1L615.2 173.1L615.5 175.5L617.9 175.5L621.4 174.1L621.0 176.0L618.8 181.0L617.0 180.4L615.9 181.9L616.3 184.0L615.3 185.9L614.1 185.9L611.7 186.7L612.1 187.6L610.2 187.1L606.7 190.3L604.8 195.6L606.2 207.3L597.9 222.6L584.1 223.3L584.1 220.3L582.3 219.6L582.1 218.3L580.3 217.6L578.4 218.7L576.0 219.0L575.2 219.3L574.7 220.8L573.0 220.0L571.9 219.3L571.5 217.8L569.7 216.7L569.7 215.4L571.2 213.7L571.2 211.1L569.3 210.1L567.5 208.2L564.7 208.4L562.1 210.7L561.5 210.4L558.9 210.1L557.5 210.4L556.5 210.6L553.6 210.4L550.9 209.0L548.4 207.1L546.7 207.0L543.5 205.3L544.6 203.1L543.8 200.2L542.3 198.2L539.7 197.4L537.7 195.6Z" fill="#9e5caa" stroke="#fff" stroke-opacity="0.4" stroke-width="0.5"/>
<path d="M556.1 172.4L557.4 174.5L559.2 175.1L560.6 178.0L560.4 180.6L564.0 181.2L566.6 182.3L568.0 185.4L575.5 185.7L579.9 187.4L583.4 185.9L587.4 185.2L589.5 183.5L588.8 182.1L589.6 180.8L592.4 181.2L596.0 178.4L600.4 177.6L597.1 175.5L594.6 175.1L596.1 171.1L592.8 170.1L588.2 172.2L584.8 172.2L582.7 170.7L579.9 169.8L576.2 169.4L576.2 167.9L571.5 166.1L570.0 168.5L570.6 169.6L569.3 171.4L565.5 170.7L562.6 169.0L559.2 170.7L556.4 171.8Z" fill="#68d0fa" stroke="#fff" stroke-opacity="0.4" stroke-width="0.5"/>
<path d="M606.7 190.3L610.2 187.1L612.1 187.6L611.7 186.7L614.1 185.9L615.3 185.9L615.7 188.5L612.3 192.8L610.3 193.4L609.2 194.4L606.9 194.3L606.2 191.2Z" fill="#ffffff" stroke="#fff" stroke-opacity="0.4" stroke-width="0.5"/>
<path d="M609.2 194.4L610.3 193.4L612.3 192.8L614.5 195.6L614.2 199.9L609.0 200.7L608.7 195.6Z" fill="#70b2ec" stroke="#fff" stroke-opacity="0.4" stroke-width="0.5"/>
<path d="M562.4 221.5L562.8 219.7L563.7 219.3L563.7 216.6L565.0 216.7L565.5 215.1L566.4 213.5L568.9 210.9L569.3 210.1L571.2 211.1L571.2 213.7L569.7 215.4L569.7 216.7L571.5 217.8L571.9 219.3L573.0 220.0L574.7 220.8L573.1 222.1L571.5 222.9L569.4 224.8L571.1 227.7L570.5 229.5L571.9 232.7L572.4 234.4L570.9 236.9L568.9 236.9L563.3 229.8L561.9 224.0Z" fill="#785ac3" stroke="#fff" stroke-opacity="0.4" stroke-width="0.5"/>
<path d="M573.1 241.9L574.5 242.9L575.9 242.2L576.5 241.1L574.4 238.3L574.4 233.4L577.0 234.5L576.3 232.0L577.1 230.8L580.2 230.8L580.7 229.1L579.6 227.7L579.5 226.2L577.7 224.9L575.9 225.2L574.4 226.2L574.7 223.3L573.7 222.3L573.1 222.1L571.5 222.9L569.4 224.8L571.1 227.7L570.5 229.5L571.9 232.7L572.4 234.4L570.9 236.9L570.0 239.7L572.3 242.5Z" fill="#48a4f0" stroke="#fff" stroke-opacity="0.4" stroke-width="0.5"/>
<path d="M573.1 222.1L573.7 222.3L574.7 223.3L574.4 226.2L575.9 225.2L577.7 224.9L579.5 226.2L579.6 227.7L580.7 229.1L580.2 230.8L581.3 231.2L583.4 230.2L583.4 229.1L582.1 227.5L580.2 225.0L578.5 223.1L579.8 222.3L578.5 221.4L577.1 221.2L576.0 219.0L575.2 219.3L574.7 220.8Z" fill="#c4e6f6" stroke="#fff" stroke-opacity="0.4" stroke-width="0.5"/>
<path d="M576.0 219.0L577.1 221.2L578.5 221.4L579.8 222.3L578.5 223.1L580.2 225.0L582.1 227.5L583.4 229.1L583.4 230.2L583.4 233.7L581.3 235.5L581.0 234.6L579.9 235.6L579.1 236.3L579.2 239.7L586.8 236.9L586.8 228.4L582.7 225.5L584.8 220.3L584.1 220.3L582.3 219.6L582.1 218.3L580.3 217.6L578.4 218.7Z" fill="#c4e6f6" stroke="#fff" stroke-opacity="0.4" stroke-width="0.5"/>
<path d="M577.0 234.5L576.3 232.0L577.1 230.8L580.2 230.8L581.3 231.2L583.4 230.2L583.4 233.7L581.3 235.5L581.0 234.6L579.9 235.6L579.1 236.3L577.1 236.9Z" fill="#9e5caa" stroke="#fff" stroke-opacity="0.4" stroke-width="0.5"/>
<path d="M573.1 241.9L574.5 242.9L575.9 242.2L579.2 243.9L579.2 249.1L577.8 249.1L573.0 243.9Z" fill="#48a4f0" stroke="#fff" stroke-opacity="0.4" stroke-width="0.5"/>
<path d="M586.3 248.0L586.4 249.4L587.5 249.6L589.3 249.4L590.3 248.7L591.9 249.0L593.5 248.6L593.7 246.9L594.6 245.7L594.9 244.8L597.2 245.0L600.0 245.3L600.0 240.4L595.1 240.4L589.6 245.3L586.1 247.3Z" fill="#48a4f0" stroke="#fff" stroke-opacity="0.4" stroke-width="0.5"/>
<path d="M629.7 253.6L629.7 264.0L644.9 266.8L649.1 259.1L639.4 252.2Z" fill="#c0c0e0" stroke="#fff" stroke-opacity="0.4" stroke-width="0.5"/>
<path d="M440.9 151.8L444.4 152.3L450.2 149.2L451.0 148.6L452.0 146.4L451.7 143.6L451.6 141.6L451.3 136.8L452.7 134.6L454.1 133.0L454.8 127.8L456.8 123.6L457.9 121.0L459.7 119.1L462.4 119.5L462.8 116.8L463.7 117.6L467.5 118.0L469.3 118.8L470.4 117.2L470.7 114.5L473.4 112.9L474.8 117.2L477.3 114.1L477.4 114.9L479.0 109.1L469.3 104.8L448.5 121.0L438.8 140.7Z" fill="#96dcf8" stroke="#fff" stroke-opacity="0.4" stroke-width="0.5"/>
<path d="M450.2 149.2L449.6 153.1L452.0 158.9L454.8 158.9L458.2 156.9L461.7 151.8L461.7 145.1L458.9 143.6L461.0 137.7L465.1 130.4L468.2 128.8L467.5 126.4L467.8 123.6L467.2 121.4L464.4 118.4L462.8 116.8L462.4 119.5L459.7 119.1L457.9 121.0L456.8 123.6L454.8 127.8L454.1 133.0L452.7 134.6L451.3 136.8L451.6 141.6L451.7 143.6L452.0 146.4L451.0 148.6Z" fill="#4a8ce4" stroke="#fff" stroke-opacity="0.4" stroke-width="0.5"/>
<path d="M468.2 128.8L467.5 126.4L467.8 123.6L467.2 121.4L464.4 118.4L462.8 116.8L463.7 117.6L467.5 118.0L469.3 118.8L470.4 117.2L470.7 114.5L473.4 112.9L474.8 117.2L474.1 120.3L476.2 122.1L474.9 125.0L476.3 129.1L475.8 132.1L476.9 134.6L478.3 138.0L475.9 143.1L473.1 145.1L469.3 147.0L465.1 147.5L463.1 143.6L463.7 137.7L466.5 133.0L469.3 130.4Z" fill="#96bae4" stroke="#fff" stroke-opacity="0.4" stroke-width="0.5"/>
<path d="M445.8 159.6L447.8 159.8L449.9 160.3L452.4 158.1L452.4 156.4L449.6 151.8L445.8 153.6L445.8 158.1Z" fill="#4a8ce4" stroke="#fff" stroke-opacity="0.4" stroke-width="0.5"/>
<path d="M466.9 148.1L473.4 147.5L473.7 149.2L472.6 150.0L472.7 152.3L472.6 153.1L469.7 151.8L468.3 152.1L466.5 151.8L464.7 150.5L465.1 148.1Z" fill="#5470dc" stroke="#fff" stroke-opacity="0.4" stroke-width="0.5"/>
<path d="M463.7 156.6L463.7 152.3L466.0 152.3L468.3 152.1L469.7 151.8L472.6 153.1L473.7 156.4L472.9 157.4L471.5 157.6L469.3 156.2L465.1 155.9Z" fill="#9e5caa" stroke="#fff" stroke-opacity="0.4" stroke-width="0.5"/>
<path d="M463.7 156.6L465.1 155.9L469.3 156.2L471.5 157.6L471.8 158.6L470.4 159.6L470.1 161.2L467.2 162.0L466.2 160.8L466.1 159.3L464.2 158.6Z" fill="#5470dc" stroke="#fff" stroke-opacity="0.4" stroke-width="0.5"/>
<path d="M454.3 162.0L454.9 165.0L455.0 168.5L455.4 168.5L456.8 169.4L458.2 170.1L460.7 171.8L462.4 172.4L466.0 172.6L467.5 169.8L468.0 168.8L467.3 167.4L467.3 165.0L467.8 164.3L467.2 162.0L466.2 160.8L462.1 160.8L460.3 159.3L454.3 160.5Z" fill="#5470dc" stroke="#fff" stroke-opacity="0.4" stroke-width="0.5"/>
<path d="M467.2 162.0L467.3 165.0L467.3 167.4L469.3 166.5L472.7 167.4L476.9 167.9L478.7 166.1L478.3 163.6L479.9 163.1L477.6 159.3L477.4 157.9L473.7 156.4L472.9 157.4L471.5 157.6L471.8 158.6L470.4 159.6L470.1 161.2Z" fill="#70b2ec" stroke="#fff" stroke-opacity="0.4" stroke-width="0.5"/>
<path d="M466.0 172.6L465.3 174.1L466.4 175.1L469.1 175.5L471.5 174.3L472.7 173.9L473.7 174.5L475.1 175.1L476.2 178.2L473.7 180.2L475.8 180.6L477.6 181.0L480.3 182.9L485.5 181.0L487.5 176.8L489.7 175.1L490.0 171.6L487.3 170.9L486.6 169.8L483.9 169.8L483.7 168.3L482.0 167.9L482.3 165.6L481.4 165.4L478.7 166.1L476.9 167.9L472.7 167.4L469.3 166.5L467.3 167.4L468.0 168.8L467.5 169.8Z" fill="#5470dc" stroke="#fff" stroke-opacity="0.4" stroke-width="0.5"/>
<path d="M471.5 174.3L472.7 173.9L473.7 174.5L475.1 175.1L476.2 178.2L473.7 180.2L473.6 177.2L472.3 175.5Z" fill="#7a7ad0" stroke="#fff" stroke-opacity="0.4" stroke-width="0.5"/>
<path d="M462.8 178.8L464.0 178.2L465.3 175.5L466.4 175.1L469.1 175.5L471.5 174.3L472.3 175.5L473.6 177.2L473.7 180.2L475.8 180.6L474.8 183.5L474.3 183.5L472.0 182.7L469.8 183.7L466.4 183.3L465.7 181.9L464.3 181.4Z" fill="#5a58d7" stroke="#fff" stroke-opacity="0.4" stroke-width="0.5"/>
<path d="M466.4 183.3L469.8 183.7L472.0 182.7L474.3 183.5L474.1 186.7L473.4 186.7L471.2 187.2L470.7 188.0L468.6 187.8L466.5 188.0L465.7 186.1L465.7 184.2Z" fill="#785ac3" stroke="#fff" stroke-opacity="0.4" stroke-width="0.5"/>
<path d="M462.4 190.9L463.2 189.3L463.7 188.7L466.5 188.0L468.6 187.8L470.7 188.0L471.2 187.2L471.1 189.1L470.7 192.1L469.3 199.1L465.1 197.4L462.4 193.9Z" fill="#5470dc" stroke="#fff" stroke-opacity="0.4" stroke-width="0.5"/>
<path d="M457.0 177.2L458.3 174.9L460.7 175.3L462.4 174.5L465.3 174.1L466.4 175.1L465.3 175.5L464.0 178.2L462.8 178.8L460.7 179.2L458.2 179.2L457.2 178.0Z" fill="#785ac3" stroke="#fff" stroke-opacity="0.4" stroke-width="0.5"/>
<path d="M451.4 170.1L454.5 168.5L455.4 168.5L456.8 169.4L458.2 170.1L460.7 171.8L458.2 173.3L455.4 172.8L453.8 173.5L452.0 171.4Z" fill="#5470dc" stroke="#fff" stroke-opacity="0.4" stroke-width="0.5"/>
<path d="M458.2 174.9L458.3 174.9L460.7 175.3L462.4 174.5L465.3 174.1L466.0 172.6L462.4 172.4L460.7 171.8L458.2 173.3Z" fill="#5470dc" stroke="#fff" stroke-opacity="0.4" stroke-width="0.5"/>
<path d="M448.0 176.0L452.7 176.0L452.7 174.3L453.8 173.5L455.4 172.8L458.2 173.3L458.3 174.9L457.0 177.2L457.2 178.0L454.8 178.2L451.8 177.6L449.2 177.2L448.0 177.0Z" fill="#4a8ce4" stroke="#fff" stroke-opacity="0.4" stroke-width="0.5"/>
<path d="M443.0 178.6L444.4 176.0L446.5 175.3L448.0 176.0L448.0 177.0L449.2 177.2L449.1 178.0L447.1 179.2L444.4 179.2Z" fill="#4a8ce4" stroke="#fff" stroke-opacity="0.4" stroke-width="0.5"/>
<path d="M443.1 169.0L443.0 166.8L444.4 165.6L444.7 163.4L444.4 161.7L446.5 159.3L446.6 159.6L447.8 159.8L449.9 160.5L454.3 160.5L454.3 162.0L454.9 165.0L455.0 168.5L454.5 168.5L451.4 170.1L452.0 171.4L453.8 173.5L452.7 174.3L452.7 176.0L448.0 176.0L446.5 175.3L445.1 175.8L446.0 172.8L443.6 171.8L443.1 170.5Z" fill="#5470dc" stroke="#fff" stroke-opacity="0.4" stroke-width="0.5"/>
<path d="M439.4 167.7L440.6 167.7L443.0 168.5L443.1 169.0L443.0 166.8L444.4 165.6L444.7 163.4L443.0 162.2L440.2 164.0L439.3 167.4Z" fill="#5470dc" stroke="#fff" stroke-opacity="0.4" stroke-width="0.5"/>
<path d="M438.2 168.3L439.4 167.7L440.6 167.7L443.0 168.5L443.1 169.0L443.1 170.5L442.7 171.8L441.3 170.7L440.5 170.7L438.3 169.0Z" fill="#5a58d7" stroke="#fff" stroke-opacity="0.4" stroke-width="0.5"/>
<path d="M432.2 184.0L431.9 182.9L427.1 174.9L431.9 171.8L436.8 168.3L438.2 168.3L438.3 169.0L440.5 170.7L441.3 170.7L442.7 171.8L443.6 171.8L446.0 172.8L445.1 175.8L444.4 176.0L443.0 178.6L444.4 179.2L443.8 180.8L444.4 182.5L445.1 183.3L443.0 185.2L439.1 185.9L437.1 185.7L435.7 185.2L434.0 185.2Z" fill="#5470dc" stroke="#fff" stroke-opacity="0.4" stroke-width="0.5"/>
<path d="M432.2 184.0L434.0 185.2L435.7 185.2L437.1 185.7L439.1 185.9L440.2 188.5L434.7 194.8L431.9 196.9L427.0 197.5L424.5 195.6L424.3 193.9L425.0 193.6L424.6 191.4L425.2 190.9L425.2 188.5L426.1 187.4L425.6 186.9L423.4 186.5L422.4 186.9L420.9 186.7L420.9 182.5L427.8 182.9Z" fill="#5470dc" stroke="#fff" stroke-opacity="0.4" stroke-width="0.5"/>
<path d="M422.4 186.9L423.4 186.5L425.6 186.9L426.1 187.4L425.2 188.5L425.2 190.9L424.6 191.4L425.0 193.6L424.3 193.9L424.5 195.3L424.5 196.2L421.6 196.2L420.9 192.1L421.6 186.7Z" fill="#5470dc" stroke="#fff" stroke-opacity="0.4" stroke-width="0.5"/>
<path d="M445.1 183.3L444.4 182.5L443.8 180.8L444.4 179.2L447.1 179.2L449.1 178.0L451.8 177.6L453.6 178.0L453.8 179.8L453.0 181.0L453.4 182.9L456.8 186.1L461.0 189.8L460.3 191.2L456.8 194.8L455.4 193.9L455.4 191.2L451.3 188.5L448.5 185.7L447.8 182.9Z" fill="#5a58d7" stroke="#fff" stroke-opacity="0.4" stroke-width="0.5"/>
<path d="M453.5 180.0L453.6 178.0L454.8 178.2L457.2 178.0L455.9 180.0Z" fill="#5a58d7" stroke="#fff" stroke-opacity="0.4" stroke-width="0.5"/>
<path d="M453.4 180.0L455.9 180.0L457.2 178.0L458.2 179.2L460.7 179.2L461.0 180.6L461.0 181.2L456.8 180.6L456.6 181.5L459.0 184.8L460.3 185.9L458.2 185.2L455.4 183.3L454.1 181.4L453.4 181.4Z" fill="#5a58d7" stroke="#fff" stroke-opacity="0.4" stroke-width="0.5"/>
<path d="M456.6 181.5L456.8 180.6L461.0 181.2L461.5 182.5L461.3 183.9L460.3 185.6L459.0 184.8Z" fill="#9e5caa" stroke="#fff" stroke-opacity="0.4" stroke-width="0.5"/>
<path d="M461.0 180.6L460.7 179.2L462.8 178.8L464.3 181.4L465.7 181.9L466.4 183.3L465.7 184.2L465.7 186.1L464.6 186.3L463.2 186.9L462.4 185.6L461.3 183.9L461.5 182.5L461.0 181.2Z" fill="#5470dc" stroke="#fff" stroke-opacity="0.4" stroke-width="0.5"/>
<path d="M460.3 185.9L460.3 185.6L461.3 183.9L462.4 185.6L461.5 186.9Z" fill="#5a58d7" stroke="#fff" stroke-opacity="0.4" stroke-width="0.5"/>
<path d="M461.5 186.9L462.4 185.6L463.2 186.9L463.7 188.7L463.2 189.3L462.4 190.9L461.3 189.8L461.4 187.6Z" fill="#7a7ad0" stroke="#fff" stroke-opacity="0.4" stroke-width="0.5"/>
<path d="M463.2 186.9L464.6 186.3L465.7 186.1L466.5 188.0L463.7 188.7Z" fill="#785ac3" stroke="#fff" stroke-opacity="0.4" stroke-width="0.5"/>
</g>
<path d="M474.8 188.2L473.4 186.7L473.3 185.4L474.1 184.0L474.4 182.3L475.8 180.4L477.2 178.2L478.3 177.8L479.0 178.6L481.3 179.0L479.6 180.2L481.0 181.7L481.7 182.1L483.5 181.0L485.2 180.6L483.1 179.8L483.1 178.6L486.6 177.0L489.1 176.6L487.3 178.0L486.6 180.0L485.6 180.6L486.3 181.4L487.3 182.1L489.6 183.9L492.1 185.7L492.1 187.6L490.0 188.5L487.3 188.5L485.2 188.0L483.1 186.7L480.3 186.7L478.3 188.2L476.2 188.2Z" fill="#fff"/>
<path d="M499.7 180.0L502.5 178.0L505.2 177.4L508.0 178.0L508.0 181.0L505.2 181.9L504.3 182.3L505.2 184.8L507.3 185.7L507.6 187.6L508.0 190.3L508.7 192.1L509.1 194.8L508.7 195.8L506.6 196.2L504.5 195.6L503.2 195.0L502.3 193.2L502.5 191.2L503.2 189.8L502.5 187.6L501.1 186.1L500.4 184.8L500.1 182.9L499.3 181.7Z" fill="#fff"/>
<circle cx="197.7" cy="264.0" r="1.7"/>
<circle cx="192.0" cy="270.0" r="1.7"/>
<circle cx="197.1" cy="270.6" r="1.7"/>
<circle cx="200.3" cy="271.4" r="1.7"/>
<circle cx="193.4" cy="279.7" r="1.7"/>
<circle cx="200.6" cy="278.3" r="1.7"/>
<circle cx="214.6" cy="281.4" r="1.7"/>
<circle cx="241.7" cy="272.3" r="1.7"/>
<circle cx="303.8" cy="147.1" r="2.2"/>
<circle cx="301.4" cy="194.3" r="9.0"/>
<circle cx="294.2" cy="218.7" r="5.6"/>
<circle cx="379.8" cy="105.4" r="1.7"/>
<circle cx="357.9" cy="177.6" r="1.7"/>
<circle cx="345.8" cy="204.2" r="1.8"/>
<circle cx="330.4" cy="216.9" r="1.8"/>
<circle cx="324.6" cy="220.8" r="1.9"/>
<circle cx="324.0" cy="224.0" r="1.7"/>
<circle cx="328.1" cy="225.9" r="1.8"/>
<circle cx="336.6" cy="220.3" r="1.8"/>
<circle cx="335.3" cy="224.5" r="1.8"/>
<circle cx="337.7" cy="224.8" r="1.8"/>
<circle cx="343.2" cy="225.9" r="1.8"/>
<circle cx="345.5" cy="225.4" r="1.7"/>
<circle cx="347.1" cy="225.4" r="1.7"/>
<circle cx="348.7" cy="226.4" r="1.7"/>
<circle cx="349.7" cy="227.7" r="1.7"/>
<circle cx="350.4" cy="229.3" r="1.7"/>
<circle cx="351.0" cy="230.6" r="1.7"/>
<circle cx="351.4" cy="232.0" r="1.7"/>
<circle cx="353.4" cy="233.0" r="1.7"/>
<circle cx="351.0" cy="234.0" r="1.7"/>
<circle cx="350.4" cy="235.6" r="1.7"/>
<circle cx="351.0" cy="236.6" r="1.7"/>
<circle cx="346.3" cy="225.6" r="1.7"/>
<circle cx="347.9" cy="225.8" r="1.7"/>
<circle cx="349.2" cy="227.0" r="1.7"/>
<circle cx="350.0" cy="228.5" r="1.7"/>
<circle cx="350.7" cy="230.0" r="1.7"/>
<circle cx="351.2" cy="231.3" r="1.7"/>
<circle cx="339.0" cy="233.9" r="1.7"/>
<circle cx="339.9" cy="234.3" r="1.7"/>
<circle cx="338.4" cy="233.6" r="1.7"/>
<circle cx="312.7" cy="227.1" r="1.7"/>
<circle cx="310.2" cy="229.7" r="1.8"/>
<circle cx="315.7" cy="230.3" r="1.8"/>
<circle cx="312.4" cy="232.3" r="1.7"/>
<circle cx="317.7" cy="233.2" r="1.7"/>
<circle cx="319.2" cy="237.3" r="1.8"/>
<circle cx="324.9" cy="238.8" r="1.9"/>
<circle cx="344.2" cy="240.4" r="2.0"/>
<circle cx="335.6" cy="245.4" r="4.3"/>
<circle cx="353.9" cy="244.7" r="1.7"/>
<circle cx="357.9" cy="245.4" r="1.7"/>
<circle cx="361.8" cy="245.8" r="1.7"/>
<circle cx="328.2" cy="253.9" r="2.7"/>
<circle cx="330.9" cy="265.5" r="5.5"/>
<circle cx="359.5" cy="265.5" r="9.0"/>
<circle cx="345.2" cy="275.3" r="2.5"/>
<circle cx="355.3" cy="284.3" r="2.2"/>
<circle cx="337.0" cy="294.7" r="2.5"/>
<circle cx="347.1" cy="301.3" r="4.0"/>
<circle cx="357.8" cy="300.0" r="1.8"/>
<circle cx="354.0" cy="335.5" r="1.6"/>
<circle cx="410.7" cy="132.0" r="1.7"/>
<circle cx="425.9" cy="141.4" r="1.7"/>
<circle cx="449.2" cy="141.4" r="1.8"/>
<circle cx="456.2" cy="141.4" r="2.2"/>
<circle cx="471.3" cy="135.1" r="1.8"/>
<circle cx="449.3" cy="157.4" r="1.8"/>
<circle cx="432.7" cy="162.2" r="4.5"/>
<circle cx="429.5" cy="162.0" r="1.4"/>
<circle cx="424.1" cy="164.6" r="1.8"/>
<circle cx="471.3" cy="149.8" r="1.8"/>
<circle cx="470.2" cy="154.4" r="1.8"/>
<circle cx="468.6" cy="157.9" r="1.8"/>
<circle cx="473.9" cy="164.6" r="1.8"/>
<circle cx="462.8" cy="167.0" r="3.8"/>
<circle cx="479.5" cy="173.4" r="3.3"/>
<circle cx="443.4" cy="165.7" r="2.0"/>
<circle cx="440.7" cy="169.8" r="2.5"/>
<circle cx="443.9" cy="171.9" r="1.4"/>
<circle cx="448.0" cy="168.9" r="4.0"/>
<circle cx="456.8" cy="171.6" r="2.6"/>
<circle cx="431.9" cy="172.7" r="1.5"/>
<circle cx="432.5" cy="173.3" r="1.5"/>
<circle cx="438.4" cy="179.4" r="4.3"/>
<circle cx="446.3" cy="177.5" r="2.0"/>
<circle cx="454.1" cy="177.0" r="2.0"/>
<circle cx="462.2" cy="174.3" r="2.0"/>
<circle cx="462.7" cy="177.3" r="2.5"/>
<circle cx="469.9" cy="179.8" r="2.8"/>
<circle cx="437.5" cy="186.4" r="1.5"/>
<circle cx="445.9" cy="183.9" r="1.5"/>
<circle cx="452.5" cy="185.5" r="4.5"/>
<circle cx="451.4" cy="183.4" r="1.4"/>
<circle cx="452.2" cy="186.6" r="1.4"/>
<circle cx="456.3" cy="179.9" r="1.7"/>
<circle cx="457.3" cy="181.3" r="1.9"/>
<circle cx="460.6" cy="183.9" r="1.8"/>
<circle cx="463.8" cy="183.1" r="2.1"/>
<circle cx="461.6" cy="186.6" r="1.6"/>
<circle cx="464.5" cy="186.1" r="1.7"/>
<circle cx="465.2" cy="187.7" r="1.7"/>
<circle cx="463.0" cy="188.8" r="1.7"/>
<circle cx="470.2" cy="185.5" r="2.4"/>
<circle cx="465.9" cy="192.5" r="2.0"/>
<circle cx="475.3" cy="177.7" r="1.5"/>
<circle cx="430.0" cy="190.9" r="3.8"/>
<circle cx="424.1" cy="192.0" r="2.0"/>
<circle cx="427.9" cy="197.9" r="1.5"/>
<circle cx="456.3" cy="197.9" r="1.6"/>
<circle cx="446.8" cy="176.9" r="1.3"/>
<circle cx="483.8" cy="192.5" r="3.1"/>
<circle cx="481.1" cy="199.7" r="1.7"/>
<circle cx="488.1" cy="199.7" r="1.8"/>
<circle cx="485.2" cy="202.2" r="1.5"/>
<circle cx="484.1" cy="204.8" r="1.6"/>
<circle cx="485.7" cy="206.4" r="1.6"/>
<circle cx="486.3" cy="205.9" r="1.6"/>
<circle cx="496.4" cy="203.0" r="2.5"/>
<circle cx="508.8" cy="204.5" r="4.0"/>
<circle cx="501.3" cy="209.1" r="1.8"/>
<circle cx="495.6" cy="186.9" r="2.0"/>
<circle cx="497.7" cy="190.9" r="1.8"/>
<circle cx="501.3" cy="189.8" r="1.8"/>
<circle cx="476.9" cy="212.3" r="2.3"/>
<circle cx="497.5" cy="215.8" r="2.0"/>
<circle cx="505.5" cy="214.6" r="1.7"/>
<circle cx="506.4" cy="215.4" r="1.7"/>
<circle cx="510.0" cy="217.0" r="1.8"/>
<circle cx="514.3" cy="221.8" r="1.8"/>
<circle cx="502.0" cy="230.5" r="1.8"/>
<circle cx="573.8" cy="146.6" r="4.5"/>
<circle cx="529.3" cy="175.5" r="2.2"/>
<circle cx="580.5" cy="179.6" r="1.8"/>
<circle cx="580.5" cy="199.6" r="1.9"/>
<circle cx="541.8" cy="223.0" r="7.3"/>
<circle cx="532.0" cy="208.0" r="2.5"/>
<circle cx="525.0" cy="203.0" r="2.0"/>
<circle cx="523.8" cy="189.3" r="1.8"/>
<circle cx="518.2" cy="190.8" r="1.8"/>
<circle cx="539.3" cy="189.3" r="1.8"/>
<circle cx="533.8" cy="193.0" r="1.8"/>
<circle cx="551.8" cy="211.3" r="1.8"/>
<circle cx="560.5" cy="211.8" r="1.7"/>
<circle cx="559.5" cy="217.0" r="2.4"/>
<circle cx="570.6" cy="220.5" r="1.9"/>
<circle cx="573.6" cy="230.4" r="2.0"/>
<circle cx="580.1" cy="226.4" r="1.7"/>
<circle cx="581.8" cy="229.2" r="1.8"/>
<circle cx="580.3" cy="233.0" r="1.8"/>
<circle cx="547.0" cy="241.8" r="1.8"/>
<circle cx="536.3" cy="247.0" r="1.7"/>
<circle cx="611.8" cy="196.2" r="1.9"/>
<circle cx="610.8" cy="190.8" r="1.7"/>
<circle cx="626.0" cy="197.6" r="2.1"/>
<circle cx="604.0" cy="233.4" r="2.7"/>
<circle cx="578.8" cy="249.6" r="2.0"/>
<circle cx="590.6" cy="248.1" r="1.8"/>
<circle cx="594.2" cy="245.1" r="1.7"/>
<circle cx="601.5" cy="258.1" r="4.5"/>
<circle cx="608.7" cy="263.1" r="1.7"/>
<circle cx="637.0" cy="230.2" r="1.7"/>
<circle cx="635.8" cy="232.8" r="1.7"/>
<circle cx="621.5" cy="240.9" r="1.7"/>
<circle cx="654.0" cy="241.7" r="1.7"/>
<circle cx="667.8" cy="238.9" r="1.7"/>
<circle cx="666.2" cy="252.0" r="1.7"/>
<circle cx="674.9" cy="249.4" r="1.7"/>
<circle cx="638.9" cy="259.6" r="1.7"/>
<circle cx="655.3" cy="262.6" r="1.7"/>
<circle cx="681.6" cy="262.6" r="1.7"/>
<circle cx="666.4" cy="273.9" r="1.7"/>
<circle cx="677.5" cy="276.7" r="1.7"/>
<circle cx="664.4" cy="281.8" r="1.7"/>
<circle cx="619.2" cy="290.3" r="1.7"/>
<circle cx="675.8" cy="313.7" r="1.8"/>
<circle cx="428.6" cy="204.8" r="2.2"/>
<circle cx="439.8" cy="211.1" r="2.0"/>
<circle cx="447.6" cy="201.3" r="2.0"/>
<circle cx="458.9" cy="216.0" r="1.8"/>
<circle cx="418.8" cy="223.2" r="1.8"/>
<circle cx="430.0" cy="227.7" r="1.8"/>
<circle cx="446.4" cy="228.8" r="2.0"/>
<circle cx="461.8" cy="230.8" r="2.0"/>
<circle cx="402.2" cy="228.8" r="1.8"/>
<circle cx="415.9" cy="231.7" r="1.8"/>
<circle cx="412.7" cy="232.7" r="1.7"/>
<circle cx="414.6" cy="234.7" r="1.7"/>
<circle cx="421.6" cy="236.0" r="1.7"/>
<circle cx="419.2" cy="239.3" r="1.7"/>
<circle cx="422.2" cy="242.1" r="1.7"/>
<circle cx="432.7" cy="233.4" r="1.8"/>
<circle cx="428.6" cy="240.3" r="1.8"/>
<circle cx="432.7" cy="240.6" r="1.8"/>
<circle cx="436.6" cy="240.3" r="1.7"/>
<circle cx="438.8" cy="238.0" r="1.7"/>
<circle cx="446.7" cy="237.7" r="2.2"/>
<circle cx="451.9" cy="242.9" r="1.8"/>
<circle cx="464.0" cy="241.9" r="1.8"/>
<circle cx="444.7" cy="249.7" r="1.7"/>
<circle cx="449.3" cy="248.8" r="1.7"/>
<circle cx="451.9" cy="253.0" r="1.7"/>
<circle cx="456.1" cy="253.0" r="1.7"/>
<circle cx="476.6" cy="230.5" r="2.0"/>
<circle cx="476.8" cy="240.4" r="1.9"/>
<circle cx="488.0" cy="240.2" r="2.0"/>
<circle cx="489.3" cy="230.5" r="1.7"/>
<circle cx="495.0" cy="235.5" r="1.7"/>
<circle cx="502.9" cy="237.8" r="1.7"/>
<circle cx="479.6" cy="249.8" r="1.8"/>
<circle cx="488.0" cy="249.8" r="1.9"/>
<circle cx="476.8" cy="254.1" r="1.6"/>
<circle cx="476.8" cy="256.4" r="1.6"/>
<circle cx="484.0" cy="259.6" r="2.0"/>
<circle cx="460.9" cy="268.6" r="1.9"/>
<circle cx="476.8" cy="272.5" r="1.9"/>
<circle cx="482.7" cy="270.2" r="1.7"/>
<circle cx="484.0" cy="277.0" r="1.8"/>
<circle cx="476.8" cy="279.6" r="1.9"/>
<circle cx="458.9" cy="282.7" r="1.9"/>
<circle cx="468.8" cy="282.7" r="1.9"/>
<circle cx="468.4" cy="293.4" r="3.6"/>
<circle cx="474.6" cy="294.0" r="1.6"/>
<circle cx="479.1" cy="289.5" r="1.6"/>
<circle cx="496.6" cy="268.0" r="1.7"/>
<circle cx="497.6" cy="268.9" r="1.7"/>
<circle cx="498.4" cy="269.6" r="1.5"/>
<circle cx="512.1" cy="257.7" r="1.7"/>
<circle cx="500.5" cy="279.6" r="1.9"/>
<circle cx="512.1" cy="281.4" r="1.7"/>
<circle cx="515.2" cy="280.0" r="1.7"/>
<circle cx="427.0" cy="274.0" r="1.7"/>
</g>
</svg>
<svg width="741" height="420" viewBox="0 0 741 420" style="position:absolute;left:0;top:0">
<path d="M54.6 96.9 l1.5 1.6 l2.7 -3.1" fill="none" stroke="#fff" stroke-width="1.1" stroke-linecap="round" stroke-linejoin="round"/>
<path d="M54.6 152.6 l1.5 1.6 l2.7 -3.1" fill="none" stroke="#fff" stroke-width="1.1" stroke-linecap="round" stroke-linejoin="round"/>
<path d="M54.6 312.9 l1.5 1.6 l2.7 -3.1" fill="none" stroke="#fff" stroke-width="1.1" stroke-linecap="round" stroke-linejoin="round"/>
<path d="M141.4 95.6 l2.7 2.6 l2.7 -2.6" fill="none" stroke="#10103f" stroke-width="1.1" stroke-linecap="round" stroke-linejoin="round"/>
<path d="M141.4 151.3 l2.7 2.6 l2.7 -2.6" fill="none" stroke="#10103f" stroke-width="1.1" stroke-linecap="round" stroke-linejoin="round"/>
<path d="M141.4 311.9 l2.7 2.6 l2.7 -2.6" fill="none" stroke="#10103f" stroke-width="1.1" stroke-linecap="round" stroke-linejoin="round"/>
<path d="M72 96.5 H76.2" fill="none" stroke="#10103f" stroke-width="0.8"/><path d="M70.9 96.5 l2 -1.5 v3 z M77.3 96.5 l-2 -1.5 v3 z" fill="#10103f"/>
<path d="M75.1 150.4 V154" fill="none" stroke="#10103f" stroke-width="0.8"/><path d="M75.1 149.2 l-1.5 2 h3 z M75.1 155.2 l-1.5 -2 h3 z" fill="#10103f"/>
<rect x="89.30" y="185.80" width="10.86" height="10.86" fill="#e46282"/>
<rect x="99.86" y="185.80" width="10.86" height="10.86" fill="#c46096"/>
<rect x="110.42" y="185.80" width="10.86" height="10.86" fill="#9e5caa"/>
<rect x="120.98" y="185.80" width="10.86" height="10.86" fill="#785ac3"/>
<rect x="131.54" y="185.80" width="10.86" height="10.86" fill="#5a58d7"/>
<rect x="89.30" y="196.36" width="10.86" height="10.86" fill="#e882a0"/>
<rect x="99.86" y="196.36" width="10.86" height="10.86" fill="#c480b0"/>
<rect x="110.42" y="196.36" width="10.86" height="10.86" fill="#9c7cc0"/>
<rect x="120.98" y="196.36" width="10.86" height="10.86" fill="#7a7ad0"/>
<rect x="131.54" y="196.36" width="10.86" height="10.86" fill="#5470dc"/>
<rect x="89.30" y="206.92" width="10.86" height="10.86" fill="#eca0ba"/>
<rect x="99.86" y="206.92" width="10.86" height="10.86" fill="#c49cc8"/>
<rect x="110.42" y="206.92" width="10.86" height="10.86" fill="#9896d2"/>
<rect x="120.98" y="206.92" width="10.86" height="10.86" fill="#7496de"/>
<rect x="131.54" y="206.92" width="10.86" height="10.86" fill="#4a8ce4"/>
<rect x="89.30" y="217.48" width="10.86" height="10.86" fill="#eec8d8"/>
<rect x="99.86" y="217.48" width="10.86" height="10.86" fill="#c0c0e0"/>
<rect x="110.42" y="217.48" width="10.86" height="10.86" fill="#96bae4"/>
<rect x="120.98" y="217.48" width="10.86" height="10.86" fill="#70b2ec"/>
<rect x="131.54" y="217.48" width="10.86" height="10.86" fill="#48a4f0"/>
<rect x="89.30" y="228.04" width="10.86" height="10.86" fill="#f2f2f2"/>
<rect x="99.86" y="228.04" width="10.86" height="10.86" fill="#c4e6f6"/>
<rect x="110.42" y="228.04" width="10.86" height="10.86" fill="#96dcf8"/>
<rect x="120.98" y="228.04" width="10.86" height="10.86" fill="#68d0fa"/>
<rect x="131.54" y="228.04" width="10.86" height="10.86" fill="#48c4fa"/>
<path d="M78.8 188.6 V185.4 M77.9 186.3 l0.9 -0.9 l0.9 0.9" fill="none" stroke="#555" stroke-width="0.45"/>
<path d="M78.8 235.6 V238.8 M77.9 237.9 l0.9 0.9 l0.9 -0.9" fill="none" stroke="#555" stroke-width="0.45"/>
<path d="M93.6 246.1 H90 M90.9 245.2 l-0.9 0.9 l0.9 0.9" fill="none" stroke="#555" stroke-width="0.45"/>
<path d="M137.8 246.1 H141.4 M140.5 245.2 l0.9 0.9 l-0.9 0.9" fill="none" stroke="#555" stroke-width="0.45"/>
<path d="M93.3 343 L134.5 335.2 L134.5 353.8 L93.3 346 Z" fill="#eef2fb"/>
<circle cx="93.3" cy="344.5" r="1.5" style="fill:#fff;stroke:#10103f;stroke-width:0.7"/>
<circle cx="134.5" cy="344.5" r="9.3" style="fill:#fff;stroke:#10103f;stroke-width:0.8"/>
<circle cx="167.8" cy="96.7" r="4.6" style="fill:none;stroke:#f5f5fa;stroke-width:0.6"/>
<circle cx="167.8" cy="152.4" r="4.6" style="fill:none;stroke:#f5f5fa;stroke-width:0.6"/>
<circle cx="167.8" cy="313.1" r="4.6" style="fill:none;stroke:#f5f5fa;stroke-width:0.6"/>
<rect x="660.7" y="318.8" width="16" height="31.4" rx="1.5" fill="#fff" stroke="#ededf2" stroke-width="0.6"/>
<path d="M660.7 334.3 H676.7" stroke="#ededf2" stroke-width="0.6"/>
<path d="M665.9 326.4 H671.3 M668.6 323.7 V329.1" stroke="#2a2a4a" stroke-width="0.8"/>
<path d="M665.9 342.2 H671.3" stroke="#9a9aa8" stroke-width="0.8"/>
</svg>
</body></html>
